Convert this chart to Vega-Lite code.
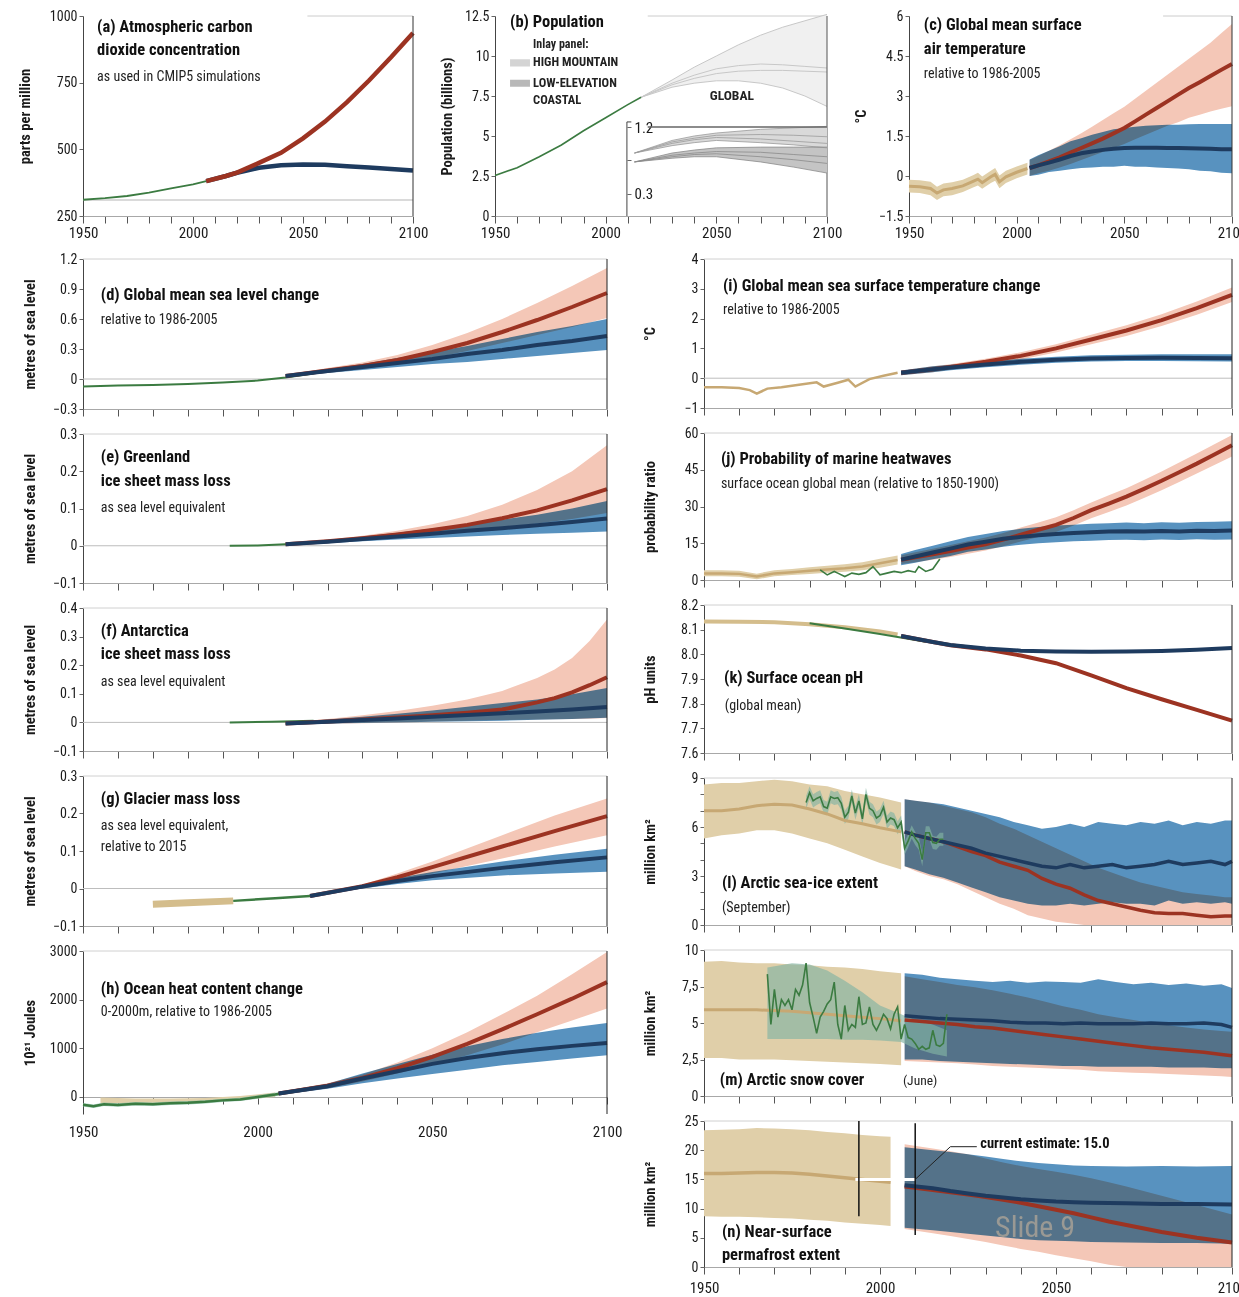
{
"$schema":"https://vega.github.io/schema/vega-lite/v6.json",
"background":"white",
"padding":{"left":17,"top":9,"right":5,"bottom":5},
"config":{
 "font":"Liberation Sans Narrow, Arial Narrow, Roboto Condensed, Roboto, sans-serif",
 "view":{"stroke":null},
 "axis":{"grid":false,"tickCount":40,"labelOverlap":false,"labelColor":"#1a1a1a","titleColor":"#1a1a1a","labelFontSize":14,"titleFontSize":14.5,"titleFontWeight":"bold","tickColor":"#666","domainColor":"#444"},
 "axisX":{"tickSize":7,"tickCount":40,"domainColor":"#a8a8a8","tickColor":"#555","labelFontSize":15,"labelFlush":false,"labelOverlap":false,"labelPadding":2},
 "axisY":{"tickSize":4,"tickCount":40,"minExtent":40,"maxExtent":40,"labelPadding":2,"titlePadding":6,"labelFlush":false,"labelOverlap":false}
},
"spacing":12,
"vconcat":[
{"hconcat":[
{"width":330,"height":200,
 "data":{"values":[
  {"s":"o","t":1950,"m":311},{"s":"o","t":1960,"m":317},{"s":"o","t":1970,"m":325},{"s":"o","t":1980,"m":338},{"s":"o","t":1990,"m":354},{"s":"o","t":2000,"m":369},{"s":"o","t":2006,"m":381},
  {"s":"p","t":2006,"m":381},{"s":"p","t":2015,"m":400},{"s":"p","t":2020,"m":413},{"s":"p","t":2030,"m":449},{"s":"p","t":2040,"m":487},{"s":"p","t":2050,"m":541},{"s":"p","t":2060,"m":604},{"s":"p","t":2070,"m":677},{"s":"p","t":2080,"m":758},{"s":"p","t":2090,"m":845},{"s":"p","t":2100,"m":936},
  {"s":"b","t":2006,"m":381},{"s":"b","t":2015,"m":400},{"s":"b","t":2020,"m":412},{"s":"b","t":2030,"m":431},{"s":"b","t":2040,"m":440},{"s":"b","t":2050,"m":443},{"s":"b","t":2060,"m":442},{"s":"b","t":2070,"m":437},{"s":"b","t":2080,"m":432},{"s":"b","t":2090,"m":426},{"s":"b","t":2100,"m":421}
 ]},
 "layer":[
  {"transform":[{"aggregate":[{"op":"count","as":"n"}]}],"mark":{"type":"rule","color":"#cccccc"},"encoding":{"x":{"datum":2052,"type":"quantitative","title":null,"scale":{"domain":[1950,2100],"nice":false,"zero":false},"axis":{"values":[1950,1960,1970,1980,1990,2000,2010,2020,2030,2040,2050,2060,2070,2080,2090,2100],"tickCount":40,"format":"d","labelExpr":"datum.value % 50 == 0 ? datum.label : ''","labelPadding":2,"labelOverlap":false}},"x2":{"datum":2100},"y":{"datum":1000,"type":"quantitative","title":"parts per million","scale":{"domain":[250,1000],"zero":false,"nice":false},"axis":{"values":[250,500,750,1000],"tickCount":40,"format":"d","labelOverlap":false,"titlePadding":11}}}},
  {"transform":[{"aggregate":[{"op":"count","as":"n"}]}],"mark":{"type":"rule","color":"#b5b5b5"},"encoding":{"x":{"datum":1950},"x2":{"datum":2100},"y":{"datum":310}}},
  {"transform":[{"filter":"datum.s=='o'"}],"mark":{"type":"line","color":"#3b7b41","strokeWidth":1.8},"encoding":{"x":{"field":"t","type":"quantitative","title":null,"scale":{"domain":[1950,2100],"nice":false,"zero":false},"axis":{"values":[1950,1960,1970,1980,1990,2000,2010,2020,2030,2040,2050,2060,2070,2080,2090,2100],"tickCount":40,"format":"d","labelExpr":"datum.value % 50 == 0 ? datum.label : ''","labelPadding":2,"labelOverlap":false}},"y":{"field":"m","type":"quantitative","title":"parts per million","scale":{"domain":[250,1000],"zero":false,"nice":false},"axis":{"values":[250,500,750,1000],"tickCount":40,"format":"d","labelOverlap":false,"titlePadding":11}}}},
  {"transform":[{"filter":"datum.s=='b'"}],"mark":{"type":"line","color":"#1e3b5f","strokeWidth":4.5},"encoding":{"x":{"field":"t","type":"quantitative","title":null},"y":{"field":"m","type":"quantitative"}}},
  {"transform":[{"filter":"datum.s=='p'"}],"mark":{"type":"line","color":"#9c3322","strokeWidth":4.5},"encoding":{"x":{"field":"t","type":"quantitative","title":null},"y":{"field":"m","type":"quantitative"}}},
  {"transform":[{"aggregate":[{"op":"count","as":"n"}]}],"mark":{"type":"rule","color":"#333"},"encoding":{"x":{"datum":2100}}},
  {"transform":[{"aggregate":[{"op":"count","as":"n"}]}],"mark":{"type":"text","align":"left","baseline":"middle","fontSize":16.5,"fontWeight":"bold","color":"#111"},"encoding":{"x":{"datum":1956.4},"y":{"datum":959},"text":{"value":"(a) Atmospheric carbon"}}},
  {"transform":[{"aggregate":[{"op":"count","as":"n"}]}],"mark":{"type":"text","align":"left","baseline":"middle","fontSize":16.5,"fontWeight":"bold","color":"#111"},"encoding":{"x":{"datum":1956.4},"y":{"datum":872},"text":{"value":"dioxide concentration"}}},
  {"transform":[{"aggregate":[{"op":"count","as":"n"}]}],"mark":{"type":"text","align":"left","baseline":"middle","fontSize":14,"color":"#222"},"encoding":{"x":{"datum":1956.4},"y":{"datum":771},"text":{"value":"as used in CMIP5 simulations"}}}
 ]},
{"width":332,"height":200,
 "data":{"values":[
  {"s":"o","t":1950,"m":2.53},{"s":"o","t":1960,"m":3.02},{"s":"o","t":1970,"m":3.7},{"s":"o","t":1980,"m":4.44},{"s":"o","t":1990,"m":5.33},{"s":"o","t":2000,"m":6.14},{"s":"o","t":2010,"m":6.96},{"s":"o","t":2016,"m":7.42},
  {"s":"g","t":2016,"a":7.42,"b":7.42,"c":7.42,"d":7.42},{"s":"g","t":2030,"a":8.5,"b":8.3,"c":8.2,"d":8.05},{"s":"g","t":2040,"a":9.3,"b":8.8,"c":8.6,"d":8.3},{"s":"g","t":2050,"a":10.0,"b":9.2,"c":8.9,"d":8.45},{"s":"g","t":2060,"a":10.7,"b":9.4,"c":9.05,"d":8.45},{"s":"g","t":2070,"a":11.3,"b":9.5,"c":9.1,"d":8.3},{"s":"g","t":2080,"a":11.8,"b":9.45,"c":9.1,"d":8.0},{"s":"g","t":2090,"a":12.2,"b":9.35,"c":9.05,"d":7.5},{"s":"g","t":2100,"a":12.6,"b":9.25,"c":9.0,"d":6.85},
  {"s":"c","t":2013,"a":0.85,"b":0.85,"c":0.85,"d":0.85},{"s":"c","t":2030,"a":1.02,"b":1.0,"c":0.98,"d":0.95},{"s":"c","t":2040,"a":1.08,"b":1.05,"c":1.03,"d":0.99},{"s":"c","t":2050,"a":1.12,"b":1.09,"c":1.06,"d":1.02},{"s":"c","t":2070,"a":1.17,"b":1.1,"c":1.04,"d":0.99},{"s":"c","t":2085,"a":1.19,"b":1.09,"c":1.01,"d":0.96},{"s":"c","t":2100,"a":1.21,"b":1.07,"c":0.98,"d":0.92},
  {"s":"k","t":2013,"a":0.73,"b":0.73,"c":0.73,"d":0.73},{"s":"k","t":2030,"a":0.85,"b":0.82,"c":0.8,"d":0.78},{"s":"k","t":2040,"a":0.89,"b":0.85,"c":0.83,"d":0.8},{"s":"k","t":2050,"a":0.92,"b":0.87,"c":0.84,"d":0.8},{"s":"k","t":2070,"a":0.93,"b":0.86,"c":0.8,"d":0.73},{"s":"k","t":2085,"a":0.93,"b":0.83,"c":0.76,"d":0.66},{"s":"k","t":2100,"a":0.93,"b":0.8,"c":0.71,"d":0.58}
 ]},
 "resolve":{"scale":{"y":"independent"},"axis":{"y":"independent"}},
 "layer":[
  {"layer":[
   {"transform":[{"aggregate":[{"op":"count","as":"n"}]}],"mark":{"type":"rule","color":"#cccccc"},"encoding":{"x":{"datum":2019,"type":"quantitative","title":null,"scale":{"domain":[1950,2100],"nice":false,"zero":false},"axis":{"values":[1950,1960,1970,1980,1990,2000,2010,2020,2030,2040,2050,2060,2070,2080,2090,2100],"tickCount":40,"format":"d","labelExpr":"datum.value % 50 == 0 ? datum.label : ''","labelPadding":2,"labelOverlap":false}},"x2":{"datum":2100},"y":{"datum":12.5,"type":"quantitative","title":"Population (billions)","scale":{"domain":[0,12.5],"zero":false,"nice":false},"axis":{"values":[0,2.5,5,7.5,10,12.5],"tickCount":40,"format":".1~f","labelOverlap":false,"titlePadding":1}}}},
   {"transform":[{"filter":"datum.s=='g'"}],"mark":{"type":"area","color":"#f0f0f0"},"encoding":{"x":{"field":"t","type":"quantitative","title":null,"scale":{"domain":[1950,2100],"nice":false,"zero":false},"axis":{"values":[1950,1960,1970,1980,1990,2000,2010,2020,2030,2040,2050,2060,2070,2080,2090,2100],"tickCount":40,"format":"d","labelExpr":"datum.value % 50 == 0 ? datum.label : ''","labelPadding":2,"labelOverlap":false}},"y":{"field":"d","type":"quantitative","title":"Population (billions)","scale":{"domain":[0,12.5],"zero":false,"nice":false},"axis":{"values":[0,2.5,5,7.5,10,12.5],"tickCount":40,"format":".1~f","labelOverlap":false,"titlePadding":1}},"y2":{"field":"a"}}},
   {"transform":[{"filter":"datum.s=='g'"},{"fold":["a","b","c","d"]}],"mark":{"type":"line","color":"#c8c8c8","strokeWidth":1},"encoding":{"x":{"field":"t","type":"quantitative","title":null},"y":{"field":"value","type":"quantitative"},"detail":{"field":"key"}}},
   {"transform":[{"filter":"datum.s=='o'"}],"mark":{"type":"line","color":"#3b7b41","strokeWidth":1.6},"encoding":{"x":{"field":"t","type":"quantitative","title":null},"y":{"field":"m","type":"quantitative"}}},
   {"transform":[{"aggregate":[{"op":"count","as":"n"}]}],"mark":{"type":"rule","color":"#555"},"encoding":{"x":{"datum":2100}}},
   {"transform":[{"aggregate":[{"op":"count","as":"n"}]}],"mark":{"type":"rect","color":"#d4d4d4"},"encoding":{"x":{"datum":1956.8},"x2":{"datum":1965.8},"y":{"datum":9.79},"y2":{"datum":9.34}}},
   {"transform":[{"aggregate":[{"op":"count","as":"n"}]}],"mark":{"type":"rect","color":"#b8b8b8"},"encoding":{"x":{"datum":1956.8},"x2":{"datum":1965.8},"y":{"datum":8.52},"y2":{"datum":8.08}}},
   {"transform":[{"aggregate":[{"op":"count","as":"n"}]}],"mark":{"type":"text","align":"left","baseline":"middle","fontSize":16.5,"fontWeight":"bold","color":"#111"},"encoding":{"x":{"datum":1956.8},"y":{"datum":12.12},"text":{"value":"(b) Population"}}},
   {"transform":[{"aggregate":[{"op":"count","as":"n"}]}],"mark":{"type":"text","align":"left","baseline":"middle","fontSize":12,"fontWeight":"bold","color":"#222"},"encoding":{"x":{"datum":1967.2},"y":{"datum":10.73},"text":{"value":"Inlay panel:"}}},
   {"transform":[{"aggregate":[{"op":"count","as":"n"}]}],"mark":{"type":"text","align":"left","baseline":"middle","fontSize":12.5,"fontWeight":"bold","color":"#222"},"encoding":{"x":{"datum":1967.2},"y":{"datum":9.6},"text":{"value":"HIGH MOUNTAIN"}}},
   {"transform":[{"aggregate":[{"op":"count","as":"n"}]}],"mark":{"type":"text","align":"left","baseline":"middle","fontSize":12.5,"fontWeight":"bold","color":"#222"},"encoding":{"x":{"datum":1967.2},"y":{"datum":8.33},"text":{"value":"LOW-ELEVATION"}}},
   {"transform":[{"aggregate":[{"op":"count","as":"n"}]}],"mark":{"type":"text","align":"left","baseline":"middle","fontSize":12.5,"fontWeight":"bold","color":"#222"},"encoding":{"x":{"datum":1967.2},"y":{"datum":7.26},"text":{"value":"COASTAL"}}},
   {"transform":[{"aggregate":[{"op":"count","as":"n"}]}],"mark":{"type":"text","align":"center","baseline":"middle","fontSize":13.5,"fontWeight":"bold","color":"#222"},"encoding":{"x":{"datum":2057},"y":{"datum":7.5},"text":{"value":"GLOBAL"}}}
  ]},
  {"layer":[
   {"transform":[{"filter":"datum.s=='c'"}],"mark":{"type":"area","color":"#d9d9d9"},"encoding":{"x":{"field":"t","type":"quantitative","title":null},"y":{"field":"d","type":"quantitative","title":null,"scale":{"domain":[0,2.7],"zero":false,"nice":false},"axis":{"orient":"right","offset":-200,"values":[0.3,0.75,1.2],"tickCount":40,"format":".1f","labelExpr":"datum.value == 0.75 ? '' : datum.label","domain":false,"labelOverlap":false,"labelFontSize":15,"labelPadding":3,"tickSize":4}},"y2":{"field":"a"}}},
   {"transform":[{"filter":"datum.s=='k'"}],"mark":{"type":"area","color":"#c4c4c4"},"encoding":{"x":{"field":"t","type":"quantitative","title":null},"y":{"field":"d","type":"quantitative"},"y2":{"field":"a"}}},
   {"transform":[{"filter":"datum.s=='c'"},{"fold":["a","b","c","d"]}],"mark":{"type":"line","color":"#9a9a9a","strokeWidth":0.8},"encoding":{"x":{"field":"t","type":"quantitative","title":null},"y":{"field":"value","type":"quantitative"},"detail":{"field":"key"}}},
   {"transform":[{"filter":"datum.s=='k'"},{"fold":["a","b","c","d"]}],"mark":{"type":"line","color":"#8a8a8a","strokeWidth":0.8},"encoding":{"x":{"field":"t","type":"quantitative","title":null},"y":{"field":"value","type":"quantitative"},"detail":{"field":"key"}}},
   {"transform":[{"aggregate":[{"op":"count","as":"n"}]}],"mark":{"type":"rule","color":"#444"},"encoding":{"x":{"datum":2009.6},"y":{"datum":0},"y2":{"datum":1.27}}},
   {"transform":[{"aggregate":[{"op":"count","as":"n"}]}],"mark":{"type":"rule","color":"#444"},"encoding":{"x":{"datum":2009.6},"x2":{"datum":2011.6},"y":{"datum":1.27}}},
   {"transform":[{"aggregate":[{"op":"count","as":"n"}]}],"mark":{"type":"rule","color":"#666","strokeWidth":1.5},"encoding":{"x":{"datum":2019},"x2":{"datum":2100},"y":{"datum":1.2}}}
  ]}
 ]},
{"width":323,"height":200,
 "data":{"values":[
  {"s":"h","t":1950,"lo":-0.62,"m":-0.38,"hi":-0.14},{"s":"h","t":1955,"lo":-0.64,"m":-0.4,"hi":-0.16},{"s":"h","t":1960,"lo":-0.72,"m":-0.47,"hi":-0.22},{"s":"h","t":1963,"lo":-0.9,"m":-0.64,"hi":-0.4},{"s":"h","t":1966,"lo":-0.76,"m":-0.52,"hi":-0.28},{"s":"h","t":1970,"lo":-0.72,"m":-0.47,"hi":-0.23},{"s":"h","t":1975,"lo":-0.6,"m":-0.37,"hi":-0.14},{"s":"h","t":1980,"lo":-0.42,"m":-0.19,"hi":0.04},{"s":"h","t":1982,"lo":-0.36,"m":-0.12,"hi":0.12},{"s":"h","t":1984,"lo":-0.48,"m":-0.25,"hi":-0.02},{"s":"h","t":1988,"lo":-0.26,"m":-0.03,"hi":0.2},{"s":"h","t":1990,"lo":-0.18,"m":0.06,"hi":0.3},{"s":"h","t":1992,"lo":-0.46,"m":-0.22,"hi":0.02},{"s":"h","t":1995,"lo":-0.26,"m":-0.03,"hi":0.2},{"s":"h","t":2000,"lo":-0.08,"m":0.14,"hi":0.36},{"s":"h","t":2005,"lo":0.06,"m":0.28,"hi":0.5},
  {"s":"p","t":2006,"lo":0.0,"m":0.3,"hi":0.6},{"s":"p","t":2010,"lo":0.1,"m":0.4,"hi":0.75},{"s":"p","t":2015,"lo":0.2,"m":0.55,"hi":0.95},{"s":"p","t":2020,"lo":0.32,"m":0.7,"hi":1.15},{"s":"p","t":2025,"lo":0.45,"m":0.88,"hi":1.38},{"s":"p","t":2030,"lo":0.6,"m":1.05,"hi":1.6},{"s":"p","t":2035,"lo":0.75,"m":1.22,"hi":1.85},{"s":"p","t":2040,"lo":0.9,"m":1.4,"hi":2.1},{"s":"p","t":2045,"lo":1.05,"m":1.6,"hi":2.35},{"s":"p","t":2050,"lo":1.2,"m":1.8,"hi":2.6},{"s":"p","t":2055,"lo":1.38,"m":2.05,"hi":2.9},{"s":"p","t":2060,"lo":1.55,"m":2.3,"hi":3.2},{"s":"p","t":2065,"lo":1.72,"m":2.55,"hi":3.5},{"s":"p","t":2070,"lo":1.88,"m":2.8,"hi":3.8},{"s":"p","t":2075,"lo":2.02,"m":3.05,"hi":4.1},{"s":"p","t":2080,"lo":2.18,"m":3.3,"hi":4.4},{"s":"p","t":2085,"lo":2.3,"m":3.52,"hi":4.7},{"s":"p","t":2090,"lo":2.42,"m":3.75,"hi":5.0},{"s":"p","t":2095,"lo":2.52,"m":3.98,"hi":5.35},{"s":"p","t":2100,"lo":2.62,"m":4.2,"hi":5.7},
  {"s":"b","t":2006,"lo":0.0,"m":0.3,"hi":0.62},{"s":"b","t":2010,"lo":0.05,"m":0.4,"hi":0.78},{"s":"b","t":2015,"lo":0.15,"m":0.5,"hi":0.95},{"s":"b","t":2020,"lo":0.2,"m":0.62,"hi":1.12},{"s":"b","t":2025,"lo":0.25,"m":0.75,"hi":1.3},{"s":"b","t":2030,"lo":0.3,"m":0.85,"hi":1.42},{"s":"b","t":2035,"lo":0.32,"m":0.92,"hi":1.55},{"s":"b","t":2040,"lo":0.35,"m":0.98,"hi":1.65},{"s":"b","t":2045,"lo":0.35,"m":1.02,"hi":1.75},{"s":"b","t":2050,"lo":0.38,"m":1.05,"hi":1.8},{"s":"b","t":2055,"lo":0.35,"m":1.06,"hi":1.85},{"s":"b","t":2060,"lo":0.35,"m":1.06,"hi":1.88},{"s":"b","t":2065,"lo":0.32,"m":1.06,"hi":1.9},{"s":"b","t":2070,"lo":0.3,"m":1.05,"hi":1.92},{"s":"b","t":2075,"lo":0.28,"m":1.05,"hi":1.92},{"s":"b","t":2080,"lo":0.25,"m":1.04,"hi":1.94},{"s":"b","t":2085,"lo":0.2,"m":1.03,"hi":1.95},{"s":"b","t":2090,"lo":0.18,"m":1.02,"hi":1.95},{"s":"b","t":2095,"lo":0.12,"m":1.0,"hi":1.95},{"s":"b","t":2100,"lo":0.1,"m":1.0,"hi":1.95}
 ]},
 "layer":[
  {"transform":[{"aggregate":[{"op":"count","as":"n"}]}],"mark":{"type":"rule","color":"#cccccc"},"encoding":{"x":{"datum":2068,"type":"quantitative","title":null,"scale":{"domain":[1950,2100],"nice":false,"zero":false},"axis":{"values":[1950,1960,1970,1980,1990,2000,2010,2020,2030,2040,2050,2060,2070,2080,2090,2100],"tickCount":40,"format":"d","labelExpr":"datum.value % 50 == 0 ? datum.label : ''","labelPadding":2,"labelOverlap":false}},"x2":{"datum":2100},"y":{"datum":6,"type":"quantitative","title":"°C","scale":{"domain":[-1.5,6],"zero":false,"nice":false},"axis":{"values":[-1.5,0,1.5,3,4.5,6],"tickCount":40,"format":".1~f","labelOverlap":false,"titlePadding":1}}}},
  {"transform":[{"filter":"datum.s=='h'"}],"mark":{"type":"area","color":"#e0cfa9"},"encoding":{"x":{"field":"t","type":"quantitative","title":null,"scale":{"domain":[1950,2100],"nice":false,"zero":false},"axis":{"values":[1950,1960,1970,1980,1990,2000,2010,2020,2030,2040,2050,2060,2070,2080,2090,2100],"tickCount":40,"format":"d","labelExpr":"datum.value % 50 == 0 ? datum.label : ''","labelPadding":2,"labelOverlap":false}},"y":{"field":"lo","type":"quantitative","title":"°C","scale":{"domain":[-1.5,6],"zero":false,"nice":false},"axis":{"values":[-1.5,0,1.5,3,4.5,6],"tickCount":40,"format":".1~f","labelOverlap":false,"titlePadding":1}},"y2":{"field":"hi"}}},
  {"transform":[{"filter":"datum.s=='p'"}],"mark":{"type":"area","color":"#f4c7b7"},"encoding":{"x":{"field":"t","type":"quantitative","title":null},"y":{"field":"lo","type":"quantitative"},"y2":{"field":"hi"}}},
  {"transform":[{"filter":"datum.s=='b'"}],"mark":{"type":"area","color":"#5892bf","blend":"multiply"},"encoding":{"x":{"field":"t","type":"quantitative","title":null},"y":{"field":"lo","type":"quantitative"},"y2":{"field":"hi"}}},
  {"transform":[{"filter":"datum.s=='h'"}],"mark":{"type":"line","color":"#c7a873","strokeWidth":3},"encoding":{"x":{"field":"t","type":"quantitative","title":null},"y":{"field":"m","type":"quantitative"}}},
  {"transform":[{"filter":"datum.s=='p'"}],"mark":{"type":"line","color":"#9c3322","strokeWidth":4},"encoding":{"x":{"field":"t","type":"quantitative","title":null},"y":{"field":"m","type":"quantitative"}}},
  {"transform":[{"filter":"datum.s=='b'"}],"mark":{"type":"line","color":"#1e3b5f","strokeWidth":4},"encoding":{"x":{"field":"t","type":"quantitative","title":null},"y":{"field":"m","type":"quantitative"}}},
  {"transform":[{"aggregate":[{"op":"count","as":"n"}]}],"mark":{"type":"rule","color":"#333"},"encoding":{"x":{"datum":2100}}},
  {"transform":[{"aggregate":[{"op":"count","as":"n"}]}],"mark":{"type":"text","align":"left","baseline":"middle","fontSize":16.5,"fontWeight":"bold","color":"#111"},"encoding":{"x":{"datum":1956.9},"y":{"datum":5.66},"text":{"value":"(c) Global mean surface"}}},
  {"transform":[{"aggregate":[{"op":"count","as":"n"}]}],"mark":{"type":"text","align":"left","baseline":"middle","fontSize":16.5,"fontWeight":"bold","color":"#111"},"encoding":{"x":{"datum":1956.9},"y":{"datum":4.78},"text":{"value":"air temperature"}}},
  {"transform":[{"aggregate":[{"op":"count","as":"n"}]}],"mark":{"type":"text","align":"left","baseline":"middle","fontSize":14,"color":"#222"},"encoding":{"x":{"datum":1956.9},"y":{"datum":3.83},"text":{"value":"relative to 1986-2005"}}}
 ]}
],"spacing":82,"bounds":"flush"},
{"hconcat":[
{"vconcat":[
{"width":524,"height":150,
 "data":{"values":[
  {"s":"o","t":1950,"m":-0.075},{"s":"o","t":1960,"m":-0.066},{"s":"o","t":1970,"m":-0.06},{"s":"o","t":1980,"m":-0.05},{"s":"o","t":1990,"m":-0.036},{"s":"o","t":2000,"m":-0.016},{"s":"o","t":2008,"m":0.014},{"s":"o","t":2016,"m":0.055},
  {"s":"p","t":2008,"lo":0.02,"m":0.03,"hi":0.04},{"s":"p","t":2020,"lo":0.06,"m":0.085,"hi":0.11},{"s":"p","t":2030,"lo":0.1,"m":0.13,"hi":0.165},{"s":"p","t":2040,"lo":0.15,"m":0.19,"hi":0.24},{"s":"p","t":2050,"lo":0.21,"m":0.27,"hi":0.34},{"s":"p","t":2060,"lo":0.28,"m":0.36,"hi":0.46},{"s":"p","t":2070,"lo":0.36,"m":0.47,"hi":0.6},{"s":"p","t":2080,"lo":0.44,"m":0.59,"hi":0.76},{"s":"p","t":2090,"lo":0.52,"m":0.72,"hi":0.93},{"s":"p","t":2100,"lo":0.61,"m":0.86,"hi":1.11},
  {"s":"b","t":2008,"lo":0.02,"m":0.03,"hi":0.04},{"s":"b","t":2020,"lo":0.06,"m":0.08,"hi":0.1},{"s":"b","t":2030,"lo":0.09,"m":0.12,"hi":0.15},{"s":"b","t":2040,"lo":0.12,"m":0.16,"hi":0.21},{"s":"b","t":2050,"lo":0.15,"m":0.2,"hi":0.27},{"s":"b","t":2060,"lo":0.17,"m":0.25,"hi":0.33},{"s":"b","t":2070,"lo":0.2,"m":0.29,"hi":0.4},{"s":"b","t":2080,"lo":0.23,"m":0.34,"hi":0.47},{"s":"b","t":2090,"lo":0.26,"m":0.38,"hi":0.53},{"s":"b","t":2100,"lo":0.29,"m":0.43,"hi":0.6}
 ]},
 "layer":[
  {"transform":[{"aggregate":[{"op":"count","as":"n"}]}],"mark":{"type":"rule","color":"#d0d0d0"},"encoding":{"x":{"datum":1950,"type":"quantitative","title":null,"scale":{"domain":[1950,2100],"nice":false,"zero":false},"axis":{"values":[1950,1960,1970,1980,1990,2000,2010,2020,2030,2040,2050,2060,2070,2080,2090,2100],"tickCount":40,"labels":false,"labelOverlap":false}},"x2":{"datum":2100},"y":{"datum":1.2,"type":"quantitative","title":"metres of sea level","scale":{"domain":[-0.3,1.2],"zero":false,"nice":false},"axis":{"values":[-0.3,0,0.3,0.6,0.9,1.2],"tickCount":40,"format":".1~f","labelOverlap":false}}}},
  {"transform":[{"aggregate":[{"op":"count","as":"n"}]}],"mark":{"type":"rule","color":"#bdbdbd"},"encoding":{"x":{"datum":1950},"x2":{"datum":2100},"y":{"datum":0}}},
  {"transform":[{"filter":"datum.s=='p'"}],"mark":{"type":"area","color":"#f4c7b7"},"encoding":{"x":{"field":"t","type":"quantitative","title":null,"scale":{"domain":[1950,2100],"nice":false,"zero":false},"axis":{"values":[1950,1960,1970,1980,1990,2000,2010,2020,2030,2040,2050,2060,2070,2080,2090,2100],"tickCount":40,"labels":false,"labelOverlap":false}},"y":{"field":"lo","type":"quantitative","title":"metres of sea level","scale":{"domain":[-0.3,1.2],"zero":false,"nice":false},"axis":{"values":[-0.3,0,0.3,0.6,0.9,1.2],"tickCount":40,"format":".1~f","labelOverlap":false}},"y2":{"field":"hi"}}},
  {"transform":[{"filter":"datum.s=='b'"}],"mark":{"type":"area","color":"#5892bf","blend":"multiply"},"encoding":{"x":{"field":"t","type":"quantitative","title":null},"y":{"field":"lo","type":"quantitative"},"y2":{"field":"hi"}}},
  {"transform":[{"filter":"datum.s=='o'"}],"mark":{"type":"line","color":"#3b7b41","strokeWidth":2},"encoding":{"x":{"field":"t","type":"quantitative","title":null},"y":{"field":"m","type":"quantitative"}}},
  {"transform":[{"filter":"datum.s=='p'"}],"mark":{"type":"line","color":"#9c3322","strokeWidth":4},"encoding":{"x":{"field":"t","type":"quantitative","title":null},"y":{"field":"m","type":"quantitative"}}},
  {"transform":[{"filter":"datum.s=='b'"}],"mark":{"type":"line","color":"#1e3b5f","strokeWidth":4},"encoding":{"x":{"field":"t","type":"quantitative","title":null},"y":{"field":"m","type":"quantitative"}}},
  {"transform":[{"aggregate":[{"op":"count","as":"n"}]}],"mark":{"type":"rule","color":"#222"},"encoding":{"x":{"datum":2100}}},
  {"transform":[{"aggregate":[{"op":"count","as":"n"}]}],"mark":{"type":"text","align":"left","baseline":"middle","fontSize":16.5,"fontWeight":"bold","color":"#111"},"encoding":{"x":{"datum":1955.1},"y":{"datum":0.845},"text":{"value":"(d) Global mean sea level change"}}},
  {"transform":[{"aggregate":[{"op":"count","as":"n"}]}],"mark":{"type":"text","align":"left","baseline":"middle","fontSize":14,"color":"#222"},"encoding":{"x":{"datum":1955.1},"y":{"datum":0.592},"text":{"value":"relative to 1986-2005"}}}
 ]},
{"width":524,"height":149,
 "data":{"values":[
  {"s":"o","t":1992,"m":0},{"s":"o","t":2000,"m":0.001},{"s":"o","t":2008,"m":0.004},{"s":"o","t":2016,"m":0.008},
  {"s":"p","t":2008,"lo":0.002,"m":0.004,"hi":0.006},{"s":"p","t":2020,"lo":0.008,"m":0.012,"hi":0.016},{"s":"p","t":2030,"lo":0.014,"m":0.02,"hi":0.027},{"s":"p","t":2040,"lo":0.022,"m":0.03,"hi":0.04},{"s":"p","t":2050,"lo":0.03,"m":0.042,"hi":0.058},{"s":"p","t":2060,"lo":0.04,"m":0.056,"hi":0.08},{"s":"p","t":2070,"lo":0.05,"m":0.074,"hi":0.11},{"s":"p","t":2080,"lo":0.06,"m":0.095,"hi":0.15},{"s":"p","t":2090,"lo":0.072,"m":0.122,"hi":0.2},{"s":"p","t":2100,"lo":0.088,"m":0.152,"hi":0.27},
  {"s":"b","t":2008,"lo":0.002,"m":0.004,"hi":0.006},{"s":"b","t":2020,"lo":0.007,"m":0.011,"hi":0.015},{"s":"b","t":2030,"lo":0.012,"m":0.018,"hi":0.025},{"s":"b","t":2040,"lo":0.017,"m":0.025,"hi":0.035},{"s":"b","t":2050,"lo":0.021,"m":0.032,"hi":0.046},{"s":"b","t":2060,"lo":0.025,"m":0.04,"hi":0.058},{"s":"b","t":2070,"lo":0.029,"m":0.047,"hi":0.07},{"s":"b","t":2080,"lo":0.032,"m":0.055,"hi":0.083},{"s":"b","t":2090,"lo":0.035,"m":0.064,"hi":0.1},{"s":"b","t":2100,"lo":0.038,"m":0.073,"hi":0.12}
 ]},
 "layer":[
  {"transform":[{"aggregate":[{"op":"count","as":"n"}]}],"mark":{"type":"rule","color":"#d0d0d0"},"encoding":{"x":{"datum":1950,"type":"quantitative","title":null,"scale":{"domain":[1950,2100],"nice":false,"zero":false},"axis":{"values":[1950,1960,1970,1980,1990,2000,2010,2020,2030,2040,2050,2060,2070,2080,2090,2100],"tickCount":40,"labels":false,"labelOverlap":false}},"x2":{"datum":2100},"y":{"datum":0.3,"type":"quantitative","title":"metres of sea level","scale":{"domain":[-0.1,0.3],"zero":false,"nice":false},"axis":{"values":[-0.1,0,0.1,0.2,0.3],"tickCount":40,"format":".1~f","labelOverlap":false}}}},
  {"transform":[{"aggregate":[{"op":"count","as":"n"}]}],"mark":{"type":"rule","color":"#bdbdbd"},"encoding":{"x":{"datum":1950},"x2":{"datum":2100},"y":{"datum":0}}},
  {"transform":[{"filter":"datum.s=='p'"}],"mark":{"type":"area","color":"#f4c7b7"},"encoding":{"x":{"field":"t","type":"quantitative","title":null,"scale":{"domain":[1950,2100],"nice":false,"zero":false},"axis":{"values":[1950,1960,1970,1980,1990,2000,2010,2020,2030,2040,2050,2060,2070,2080,2090,2100],"tickCount":40,"labels":false,"labelOverlap":false}},"y":{"field":"lo","type":"quantitative","title":"metres of sea level","scale":{"domain":[-0.1,0.3],"zero":false,"nice":false},"axis":{"values":[-0.1,0,0.1,0.2,0.3],"tickCount":40,"format":".1~f","labelOverlap":false}},"y2":{"field":"hi"}}},
  {"transform":[{"filter":"datum.s=='b'"}],"mark":{"type":"area","color":"#5892bf","blend":"multiply"},"encoding":{"x":{"field":"t","type":"quantitative","title":null},"y":{"field":"lo","type":"quantitative"},"y2":{"field":"hi"}}},
  {"transform":[{"filter":"datum.s=='o'"}],"mark":{"type":"line","color":"#3b7b41","strokeWidth":2},"encoding":{"x":{"field":"t","type":"quantitative","title":null},"y":{"field":"m","type":"quantitative"}}},
  {"transform":[{"filter":"datum.s=='p'"}],"mark":{"type":"line","color":"#9c3322","strokeWidth":4},"encoding":{"x":{"field":"t","type":"quantitative","title":null},"y":{"field":"m","type":"quantitative"}}},
  {"transform":[{"filter":"datum.s=='b'"}],"mark":{"type":"line","color":"#1e3b5f","strokeWidth":4},"encoding":{"x":{"field":"t","type":"quantitative","title":null},"y":{"field":"m","type":"quantitative"}}},
  {"transform":[{"aggregate":[{"op":"count","as":"n"}]}],"mark":{"type":"rule","color":"#222"},"encoding":{"x":{"datum":2100}}},
  {"transform":[{"aggregate":[{"op":"count","as":"n"}]}],"mark":{"type":"text","align":"left","baseline":"middle","fontSize":16.5,"fontWeight":"bold","color":"#111"},"encoding":{"x":{"datum":1955.1},"y":{"datum":0.237},"text":{"value":"(e) Greenland"}}},
  {"transform":[{"aggregate":[{"op":"count","as":"n"}]}],"mark":{"type":"text","align":"left","baseline":"middle","fontSize":16.5,"fontWeight":"bold","color":"#111"},"encoding":{"x":{"datum":1955.1},"y":{"datum":0.173},"text":{"value":"ice sheet mass loss"}}},
  {"transform":[{"aggregate":[{"op":"count","as":"n"}]}],"mark":{"type":"text","align":"left","baseline":"middle","fontSize":14,"color":"#222"},"encoding":{"x":{"datum":1955.1},"y":{"datum":0.101},"text":{"value":"as sea level equivalent"}}}
 ]},
{"width":524,"height":143,
 "data":{"values":[
  {"s":"o","t":1992,"m":0},{"s":"o","t":2004,"m":0.002},{"s":"o","t":2016,"m":0.006},
  {"s":"p","t":2008,"lo":-0.008,"m":-0.004,"hi":0},{"s":"p","t":2020,"lo":-0.005,"m":0.003,"hi":0.012},{"s":"p","t":2030,"lo":-0.003,"m":0.01,"hi":0.025},{"s":"p","t":2040,"lo":0,"m":0.017,"hi":0.04},{"s":"p","t":2050,"lo":0.003,"m":0.025,"hi":0.058},{"s":"p","t":2060,"lo":0.006,"m":0.034,"hi":0.08},{"s":"p","t":2070,"lo":0.008,"m":0.045,"hi":0.11},{"s":"p","t":2080,"lo":0.01,"m":0.07,"hi":0.155},{"s":"p","t":2085,"lo":0.011,"m":0.085,"hi":0.185},{"s":"p","t":2090,"lo":0.012,"m":0.105,"hi":0.225},{"s":"p","t":2095,"lo":0.013,"m":0.13,"hi":0.285},{"s":"p","t":2100,"lo":0.015,"m":0.158,"hi":0.36},
  {"s":"b","t":2008,"lo":-0.008,"m":-0.004,"hi":0},{"s":"b","t":2020,"lo":-0.004,"m":0.002,"hi":0.01},{"s":"b","t":2030,"lo":-0.002,"m":0.008,"hi":0.02},{"s":"b","t":2040,"lo":0,"m":0.014,"hi":0.03},{"s":"b","t":2050,"lo":0.002,"m":0.02,"hi":0.042},{"s":"b","t":2060,"lo":0.004,"m":0.026,"hi":0.055},{"s":"b","t":2070,"lo":0.006,"m":0.032,"hi":0.068},{"s":"b","t":2080,"lo":0.009,"m":0.038,"hi":0.08},{"s":"b","t":2090,"lo":0.012,"m":0.045,"hi":0.098},{"s":"b","t":2100,"lo":0.016,"m":0.054,"hi":0.12}
 ]},
 "layer":[
  {"transform":[{"aggregate":[{"op":"count","as":"n"}]}],"mark":{"type":"rule","color":"#d0d0d0"},"encoding":{"x":{"datum":1950,"type":"quantitative","title":null,"scale":{"domain":[1950,2100],"nice":false,"zero":false},"axis":{"values":[1950,1960,1970,1980,1990,2000,2010,2020,2030,2040,2050,2060,2070,2080,2090,2100],"tickCount":40,"labels":false,"labelOverlap":false}},"x2":{"datum":2100},"y":{"datum":0.4,"type":"quantitative","title":"metres of sea level","scale":{"domain":[-0.1,0.4],"zero":false,"nice":false},"axis":{"values":[-0.1,0,0.1,0.2,0.3,0.4],"tickCount":40,"format":".1~f","labelOverlap":false}}}},
  {"transform":[{"aggregate":[{"op":"count","as":"n"}]}],"mark":{"type":"rule","color":"#bdbdbd"},"encoding":{"x":{"datum":1950},"x2":{"datum":2100},"y":{"datum":0}}},
  {"transform":[{"filter":"datum.s=='p'"}],"mark":{"type":"area","color":"#f4c7b7"},"encoding":{"x":{"field":"t","type":"quantitative","title":null,"scale":{"domain":[1950,2100],"nice":false,"zero":false},"axis":{"values":[1950,1960,1970,1980,1990,2000,2010,2020,2030,2040,2050,2060,2070,2080,2090,2100],"tickCount":40,"labels":false,"labelOverlap":false}},"y":{"field":"lo","type":"quantitative","title":"metres of sea level","scale":{"domain":[-0.1,0.4],"zero":false,"nice":false},"axis":{"values":[-0.1,0,0.1,0.2,0.3,0.4],"tickCount":40,"format":".1~f","labelOverlap":false}},"y2":{"field":"hi"}}},
  {"transform":[{"filter":"datum.s=='b'"}],"mark":{"type":"area","color":"#5892bf","blend":"multiply"},"encoding":{"x":{"field":"t","type":"quantitative","title":null},"y":{"field":"lo","type":"quantitative"},"y2":{"field":"hi"}}},
  {"transform":[{"filter":"datum.s=='o'"}],"mark":{"type":"line","color":"#3b7b41","strokeWidth":2},"encoding":{"x":{"field":"t","type":"quantitative","title":null},"y":{"field":"m","type":"quantitative"}}},
  {"transform":[{"filter":"datum.s=='p'"}],"mark":{"type":"line","color":"#9c3322","strokeWidth":4},"encoding":{"x":{"field":"t","type":"quantitative","title":null},"y":{"field":"m","type":"quantitative"}}},
  {"transform":[{"filter":"datum.s=='b'"}],"mark":{"type":"line","color":"#1e3b5f","strokeWidth":4},"encoding":{"x":{"field":"t","type":"quantitative","title":null},"y":{"field":"m","type":"quantitative"}}},
  {"transform":[{"aggregate":[{"op":"count","as":"n"}]}],"mark":{"type":"rule","color":"#222"},"encoding":{"x":{"datum":2100}}},
  {"transform":[{"aggregate":[{"op":"count","as":"n"}]}],"mark":{"type":"text","align":"left","baseline":"middle","fontSize":16.5,"fontWeight":"bold","color":"#111"},"encoding":{"x":{"datum":1955.1},"y":{"datum":0.32},"text":{"value":"(f) Antarctica"}}},
  {"transform":[{"aggregate":[{"op":"count","as":"n"}]}],"mark":{"type":"text","align":"left","baseline":"middle","fontSize":16.5,"fontWeight":"bold","color":"#111"},"encoding":{"x":{"datum":1955.1},"y":{"datum":0.24},"text":{"value":"ice sheet mass loss"}}},
  {"transform":[{"aggregate":[{"op":"count","as":"n"}]}],"mark":{"type":"text","align":"left","baseline":"middle","fontSize":14,"color":"#222"},"encoding":{"x":{"datum":1955.1},"y":{"datum":0.143},"text":{"value":"as sea level equivalent"}}}
 ]},
{"width":524,"height":150,
 "data":{"values":[
  {"s":"h","t":1970,"m":-0.042},{"s":"h","t":1980,"m":-0.038},{"s":"h","t":1993,"m":-0.033},
  {"s":"o","t":1993,"m":-0.033},{"s":"o","t":2005,"m":-0.026},{"s":"o","t":2015,"m":-0.02},
  {"s":"p","t":2015,"lo":-0.02,"m":-0.02,"hi":-0.02},{"s":"p","t":2030,"lo":0.002,"m":0.006,"hi":0.01},{"s":"p","t":2040,"lo":0.02,"m":0.03,"hi":0.04},{"s":"p","t":2050,"lo":0.04,"m":0.057,"hi":0.072},{"s":"p","t":2070,"lo":0.08,"m":0.112,"hi":0.142},{"s":"p","t":2085,"lo":0.112,"m":0.153,"hi":0.195},{"s":"p","t":2100,"lo":0.142,"m":0.193,"hi":0.24},
  {"s":"b","t":2015,"lo":-0.02,"m":-0.02,"hi":-0.02},{"s":"b","t":2030,"lo":0,"m":0.005,"hi":0.01},{"s":"b","t":2040,"lo":0.012,"m":0.02,"hi":0.028},{"s":"b","t":2050,"lo":0.022,"m":0.033,"hi":0.044},{"s":"b","t":2070,"lo":0.035,"m":0.055,"hi":0.072},{"s":"b","t":2085,"lo":0.04,"m":0.07,"hi":0.09},{"s":"b","t":2100,"lo":0.045,"m":0.083,"hi":0.106}
 ]},
 "layer":[
  {"transform":[{"aggregate":[{"op":"count","as":"n"}]}],"mark":{"type":"rule","color":"#d0d0d0"},"encoding":{"x":{"datum":1950,"type":"quantitative","title":null,"scale":{"domain":[1950,2100],"nice":false,"zero":false},"axis":{"values":[1950,1960,1970,1980,1990,2000,2010,2020,2030,2040,2050,2060,2070,2080,2090,2100],"tickCount":40,"labels":false,"labelOverlap":false}},"x2":{"datum":2100},"y":{"datum":0.3,"type":"quantitative","title":"metres of sea level","scale":{"domain":[-0.1,0.3],"zero":false,"nice":false},"axis":{"values":[-0.1,0,0.1,0.2,0.3],"tickCount":40,"format":".1~f","labelOverlap":false}}}},
  {"transform":[{"aggregate":[{"op":"count","as":"n"}]}],"mark":{"type":"rule","color":"#bdbdbd"},"encoding":{"x":{"datum":1950},"x2":{"datum":2100},"y":{"datum":0}}},
  {"transform":[{"filter":"datum.s=='p'"}],"mark":{"type":"area","color":"#f4c7b7"},"encoding":{"x":{"field":"t","type":"quantitative","title":null,"scale":{"domain":[1950,2100],"nice":false,"zero":false},"axis":{"values":[1950,1960,1970,1980,1990,2000,2010,2020,2030,2040,2050,2060,2070,2080,2090,2100],"tickCount":40,"labels":false,"labelOverlap":false}},"y":{"field":"lo","type":"quantitative","title":"metres of sea level","scale":{"domain":[-0.1,0.3],"zero":false,"nice":false},"axis":{"values":[-0.1,0,0.1,0.2,0.3],"tickCount":40,"format":".1~f","labelOverlap":false}},"y2":{"field":"hi"}}},
  {"transform":[{"filter":"datum.s=='b'"}],"mark":{"type":"area","color":"#5892bf","blend":"multiply"},"encoding":{"x":{"field":"t","type":"quantitative","title":null},"y":{"field":"lo","type":"quantitative"},"y2":{"field":"hi"}}},
  {"transform":[{"filter":"datum.s=='h'"}],"mark":{"type":"line","color":"#d4bd8c","strokeWidth":7},"encoding":{"x":{"field":"t","type":"quantitative","title":null},"y":{"field":"m","type":"quantitative"}}},
  {"transform":[{"filter":"datum.s=='o'"}],"mark":{"type":"line","color":"#3b7b41","strokeWidth":2.5},"encoding":{"x":{"field":"t","type":"quantitative","title":null},"y":{"field":"m","type":"quantitative"}}},
  {"transform":[{"filter":"datum.s=='p'"}],"mark":{"type":"line","color":"#9c3322","strokeWidth":4},"encoding":{"x":{"field":"t","type":"quantitative","title":null},"y":{"field":"m","type":"quantitative"}}},
  {"transform":[{"filter":"datum.s=='b'"}],"mark":{"type":"line","color":"#1e3b5f","strokeWidth":4},"encoding":{"x":{"field":"t","type":"quantitative","title":null},"y":{"field":"m","type":"quantitative"}}},
  {"transform":[{"aggregate":[{"op":"count","as":"n"}]}],"mark":{"type":"rule","color":"#222"},"encoding":{"x":{"datum":2100}}},
  {"transform":[{"aggregate":[{"op":"count","as":"n"}]}],"mark":{"type":"text","align":"left","baseline":"middle","fontSize":16.5,"fontWeight":"bold","color":"#111"},"encoding":{"x":{"datum":1955.1},"y":{"datum":0.238},"text":{"value":"(g) Glacier mass loss"}}},
  {"transform":[{"aggregate":[{"op":"count","as":"n"}]}],"mark":{"type":"text","align":"left","baseline":"middle","fontSize":14,"color":"#222"},"encoding":{"x":{"datum":1955.1},"y":{"datum":0.166},"text":{"value":"as sea level equivalent,"}}},
  {"transform":[{"aggregate":[{"op":"count","as":"n"}]}],"mark":{"type":"text","align":"left","baseline":"middle","fontSize":14,"color":"#222"},"encoding":{"x":{"datum":1955.1},"y":{"datum":0.112},"text":{"value":"relative to 2015"}}}
 ]},
{"width":524,"height":163,
 "data":{"values":[
  {"s":"h","t":1955,"lo":-130,"m":-70,"hi":-10},{"s":"h","t":1965,"lo":-140,"m":-85,"hi":-30},{"s":"h","t":1975,"lo":-130,"m":-80,"hi":-30},{"s":"h","t":1985,"lo":-100,"m":-60,"hi":-20},{"s":"h","t":1995,"lo":-60,"m":-20,"hi":20},{"s":"h","t":2005,"lo":0,"m":45,"hi":90},
  {"s":"o","t":1950,"lo":-195,"m":-160,"hi":-125},{"s":"o","t":1953,"lo":-225,"m":-190,"hi":-155},{"s":"o","t":1956,"lo":-185,"m":-150,"hi":-115},{"s":"o","t":1960,"lo":-200,"m":-165,"hi":-130},{"s":"o","t":1965,"lo":-175,"m":-140,"hi":-105},{"s":"o","t":1970,"lo":-185,"m":-150,"hi":-115},{"s":"o","t":1975,"lo":-165,"m":-130,"hi":-95},{"s":"o","t":1980,"lo":-155,"m":-120,"hi":-85},{"s":"o","t":1985,"lo":-135,"m":-100,"hi":-65},{"s":"o","t":1990,"lo":-105,"m":-70,"hi":-35},{"s":"o","t":1995,"lo":-85,"m":-50,"hi":-15},{"s":"o","t":2000,"lo":-35,"m":0,"hi":35},{"s":"o","t":2005,"lo":15,"m":50,"hi":85},{"s":"o","t":2010,"lo":75,"m":110,"hi":145},{"s":"o","t":2015,"lo":135,"m":170,"hi":205},{"s":"o","t":2018,"lo":175,"m":210,"hi":245},
  {"s":"p","t":2006,"lo":40,"m":70,"hi":100},{"s":"p","t":2020,"lo":180,"m":230,"hi":280},{"s":"p","t":2030,"lo":320,"m":390,"hi":460},{"s":"p","t":2040,"lo":480,"m":590,"hi":710},{"s":"p","t":2050,"lo":660,"m":825,"hi":1000},{"s":"p","t":2060,"lo":860,"m":1090,"hi":1330},{"s":"p","t":2070,"lo":1080,"m":1390,"hi":1700},{"s":"p","t":2080,"lo":1330,"m":1700,"hi":2080},{"s":"p","t":2090,"lo":1570,"m":2020,"hi":2520},{"s":"p","t":2100,"lo":1820,"m":2360,"hi":2980},
  {"s":"b","t":2006,"lo":40,"m":70,"hi":100},{"s":"b","t":2020,"lo":170,"m":220,"hi":270},{"s":"b","t":2030,"lo":280,"m":380,"hi":480},{"s":"b","t":2040,"lo":380,"m":530,"hi":680},{"s":"b","t":2050,"lo":470,"m":680,"hi":870},{"s":"b","t":2060,"lo":560,"m":800,"hi":1040},{"s":"b","t":2070,"lo":650,"m":900,"hi":1190},{"s":"b","t":2080,"lo":720,"m":980,"hi":1320},{"s":"b","t":2090,"lo":790,"m":1050,"hi":1430},{"s":"b","t":2100,"lo":860,"m":1110,"hi":1520}
 ]},
 "layer":[
  {"transform":[{"aggregate":[{"op":"count","as":"n"}]}],"mark":{"type":"rule","color":"#d0d0d0"},"encoding":{"x":{"datum":1950,"type":"quantitative","title":null,"scale":{"domain":[1950,2100],"nice":false,"zero":false},"axis":{"values":[1950,1960,1970,1980,1990,2000,2010,2020,2030,2040,2050,2060,2070,2080,2090,2100],"tickCount":40,"format":"d","labelExpr":"datum.value % 50 == 0 ? datum.label : ''","labelPadding":20,"offset":-17,"labelOverlap":false}},"x2":{"datum":2100},"y":{"datum":3000,"type":"quantitative","title":"10²¹ Joules","scale":{"domain":[-350,3000],"zero":false,"nice":false},"axis":{"values":[0,1000,2000,3000],"tickCount":40,"format":"d","labelOverlap":false}}}},
  {"transform":[{"filter":"datum.s=='h'"}],"mark":{"type":"area","color":"#e0cfa9"},"encoding":{"x":{"field":"t","type":"quantitative","title":null,"scale":{"domain":[1950,2100],"nice":false,"zero":false},"axis":{"values":[1950,1960,1970,1980,1990,2000,2010,2020,2030,2040,2050,2060,2070,2080,2090,2100],"tickCount":40,"format":"d","labelExpr":"datum.value % 50 == 0 ? datum.label : ''","labelPadding":20,"offset":-17,"labelOverlap":false}},"y":{"field":"lo","type":"quantitative","title":"10²¹ Joules","scale":{"domain":[-350,3000],"zero":false,"nice":false},"axis":{"values":[0,1000,2000,3000],"tickCount":40,"format":"d","labelOverlap":false}},"y2":{"field":"hi"}}},
  {"transform":[{"filter":"datum.s=='p'"}],"mark":{"type":"area","color":"#f4c7b7"},"encoding":{"x":{"field":"t","type":"quantitative","title":null},"y":{"field":"lo","type":"quantitative"},"y2":{"field":"hi"}}},
  {"transform":[{"filter":"datum.s=='b'"}],"mark":{"type":"area","color":"#5892bf","blend":"multiply"},"encoding":{"x":{"field":"t","type":"quantitative","title":null},"y":{"field":"lo","type":"quantitative"},"y2":{"field":"hi"}}},
  {"transform":[{"filter":"datum.s=='o'"}],"mark":{"type":"area","color":"#86bfa6","opacity":0.7},"encoding":{"x":{"field":"t","type":"quantitative","title":null},"y":{"field":"lo","type":"quantitative"},"y2":{"field":"hi"}}},
  {"transform":[{"filter":"datum.s=='o'"}],"mark":{"type":"line","color":"#3b7b41","strokeWidth":2.5},"encoding":{"x":{"field":"t","type":"quantitative","title":null},"y":{"field":"m","type":"quantitative"}}},
  {"transform":[{"filter":"datum.s=='p'"}],"mark":{"type":"line","color":"#9c3322","strokeWidth":4},"encoding":{"x":{"field":"t","type":"quantitative","title":null},"y":{"field":"m","type":"quantitative"}}},
  {"transform":[{"filter":"datum.s=='b'"}],"mark":{"type":"line","color":"#1e3b5f","strokeWidth":4},"encoding":{"x":{"field":"t","type":"quantitative","title":null},"y":{"field":"m","type":"quantitative"}}},
  {"transform":[{"aggregate":[{"op":"count","as":"n"}]}],"mark":{"type":"rule","color":"#222"},"encoding":{"x":{"datum":2100}}},
  {"transform":[{"aggregate":[{"op":"count","as":"n"}]}],"mark":{"type":"text","align":"left","baseline":"middle","fontSize":16.5,"fontWeight":"bold","color":"#111"},"encoding":{"x":{"datum":1955.1},"y":{"datum":2215},"text":{"value":"(h) Ocean heat content change"}}},
  {"transform":[{"aggregate":[{"op":"count","as":"n"}]}],"mark":{"type":"text","align":"left","baseline":"middle","fontSize":14,"color":"#222"},"encoding":{"x":{"datum":1955.1},"y":{"datum":1753},"text":{"value":"0-2000m, relative to 1986-2005"}}}
 ]}
],"spacing":25,"bounds":"flush"},
{"vconcat":[
{"width":528,"height":149,
 "data":{"values":[
  {"s":"h","t":1950,"m":-0.3},{"s":"h","t":1955,"m":-0.3},{"s":"h","t":1960,"m":-0.33},{"s":"h","t":1963,"m":-0.4},{"s":"h","t":1965,"m":-0.52},{"s":"h","t":1968,"m":-0.35},{"s":"h","t":1972,"m":-0.3},{"s":"h","t":1977,"m":-0.22},{"s":"h","t":1982,"m":-0.14},{"s":"h","t":1984,"m":-0.28},{"s":"h","t":1988,"m":-0.15},{"s":"h","t":1991,"m":-0.05},{"s":"h","t":1993,"m":-0.28},{"s":"h","t":1997,"m":-0.03},{"s":"h","t":2001,"m":0.08},{"s":"h","t":2005,"m":0.18},
  {"s":"b","t":2006,"lo":0.1,"m":0.18,"hi":0.26},{"s":"b","t":2015,"lo":0.2,"m":0.3,"hi":0.4},{"s":"b","t":2020,"lo":0.27,"m":0.36,"hi":0.45},{"s":"b","t":2030,"lo":0.37,"m":0.46,"hi":0.56},{"s":"b","t":2040,"lo":0.45,"m":0.55,"hi":0.65},{"s":"b","t":2050,"lo":0.52,"m":0.62,"hi":0.72},{"s":"b","t":2060,"lo":0.56,"m":0.66,"hi":0.77},{"s":"b","t":2070,"lo":0.58,"m":0.68,"hi":0.79},{"s":"b","t":2080,"lo":0.58,"m":0.69,"hi":0.8},{"s":"b","t":2090,"lo":0.57,"m":0.68,"hi":0.8},{"s":"b","t":2100,"lo":0.56,"m":0.67,"hi":0.8},
  {"s":"p","t":2006,"lo":0.1,"m":0.18,"hi":0.26},{"s":"p","t":2015,"lo":0.2,"m":0.3,"hi":0.4},{"s":"p","t":2020,"lo":0.29,"m":0.38,"hi":0.47},{"s":"p","t":2030,"lo":0.45,"m":0.55,"hi":0.65},{"s":"p","t":2040,"lo":0.63,"m":0.75,"hi":0.87},{"s":"p","t":2050,"lo":0.86,"m":1.0,"hi":1.14},{"s":"p","t":2060,"lo":1.14,"m":1.3,"hi":1.46},{"s":"p","t":2070,"lo":1.42,"m":1.6,"hi":1.78},{"s":"p","t":2080,"lo":1.75,"m":1.95,"hi":2.15},{"s":"p","t":2090,"lo":2.13,"m":2.35,"hi":2.57},{"s":"p","t":2100,"lo":2.56,"m":2.8,"hi":3.04}
 ]},
 "layer":[
  {"transform":[{"aggregate":[{"op":"count","as":"n"}]}],"mark":{"type":"rule","color":"#d0d0d0"},"encoding":{"x":{"datum":1950,"type":"quantitative","title":null,"scale":{"domain":[1950,2100],"nice":false,"zero":false},"axis":{"values":[1950,1960,1970,1980,1990,2000,2010,2020,2030,2040,2050,2060,2070,2080,2090,2100],"tickCount":40,"labels":false,"labelOverlap":false}},"x2":{"datum":2100},"y":{"datum":4,"type":"quantitative","title":"°C","scale":{"domain":[-1,4],"zero":false,"nice":false},"axis":{"values":[-1,0,1,2,3,4],"tickCount":40,"format":"d","labelOverlap":false,"titlePadding":7}}}},
  {"transform":[{"aggregate":[{"op":"count","as":"n"}]}],"mark":{"type":"rule","color":"#bdbdbd"},"encoding":{"x":{"datum":1950},"x2":{"datum":2100},"y":{"datum":0}}},
  {"transform":[{"filter":"datum.s=='p'"}],"mark":{"type":"area","color":"#f4c7b7"},"encoding":{"x":{"field":"t","type":"quantitative","title":null,"scale":{"domain":[1950,2100],"nice":false,"zero":false},"axis":{"values":[1950,1960,1970,1980,1990,2000,2010,2020,2030,2040,2050,2060,2070,2080,2090,2100],"tickCount":40,"labels":false,"labelOverlap":false}},"y":{"field":"lo","type":"quantitative","title":"°C","scale":{"domain":[-1,4],"zero":false,"nice":false},"axis":{"values":[-1,0,1,2,3,4],"tickCount":40,"format":"d","labelOverlap":false,"titlePadding":7}},"y2":{"field":"hi"}}},
  {"transform":[{"filter":"datum.s=='b'"}],"mark":{"type":"area","color":"#5892bf","blend":"multiply"},"encoding":{"x":{"field":"t","type":"quantitative","title":null},"y":{"field":"lo","type":"quantitative"},"y2":{"field":"hi"}}},
  {"transform":[{"filter":"datum.s=='h'"}],"mark":{"type":"line","color":"#c7a873","strokeWidth":2.5},"encoding":{"x":{"field":"t","type":"quantitative","title":null},"y":{"field":"m","type":"quantitative"}}},
  {"transform":[{"filter":"datum.s=='p'"}],"mark":{"type":"line","color":"#9c3322","strokeWidth":4},"encoding":{"x":{"field":"t","type":"quantitative","title":null},"y":{"field":"m","type":"quantitative"}}},
  {"transform":[{"filter":"datum.s=='b'"}],"mark":{"type":"line","color":"#1e3b5f","strokeWidth":4},"encoding":{"x":{"field":"t","type":"quantitative","title":null},"y":{"field":"m","type":"quantitative"}}},
  {"transform":[{"aggregate":[{"op":"count","as":"n"}]}],"mark":{"type":"rule","color":"#222"},"encoding":{"x":{"datum":2100}}},
  {"transform":[{"aggregate":[{"op":"count","as":"n"}]}],"mark":{"type":"text","align":"left","baseline":"middle","fontSize":16.5,"fontWeight":"bold","color":"#111"},"encoding":{"x":{"datum":1955.4},"y":{"datum":3.1},"text":{"value":"(i) Global mean sea surface temperature change"}}},
  {"transform":[{"aggregate":[{"op":"count","as":"n"}]}],"mark":{"type":"text","align":"left","baseline":"middle","fontSize":14,"color":"#222"},"encoding":{"x":{"datum":1955.4},"y":{"datum":2.3},"text":{"value":"relative to 1986-2005"}}}
 ]},
{"width":528,"height":147,
 "data":{"values":[
  {"s":"h","t":1950,"lo":1.5,"m":2.7,"hi":4},{"s":"h","t":1955,"lo":1.5,"m":2.7,"hi":4},{"s":"h","t":1960,"lo":1.3,"m":2.5,"hi":3.8},{"s":"h","t":1965,"lo":0.3,"m":1.4,"hi":2.6},{"s":"h","t":1970,"lo":1.5,"m":2.7,"hi":4},{"s":"h","t":1975,"lo":2,"m":3.2,"hi":4.5},{"s":"h","t":1980,"lo":2.5,"m":3.8,"hi":5.2},{"s":"h","t":1985,"lo":3,"m":4.3,"hi":5.8},{"s":"h","t":1990,"lo":3.4,"m":4.8,"hi":6.4},{"s":"h","t":1995,"lo":4,"m":5.5,"hi":7.2},{"s":"h","t":2000,"lo":5,"m":6.8,"hi":8.7},{"s":"h","t":2005,"lo":6.3,"m":8.2,"hi":10},
  {"s":"o","t":1983,"m":4.1},{"s":"o","t":1985,"m":2.1},{"s":"o","t":1987,"m":3.5},{"s":"o","t":1988,"m":2.8},{"s":"o","t":1990,"m":1.4},{"s":"o","t":1992,"m":2.8},{"s":"o","t":1994,"m":2.3},{"s":"o","t":1996,"m":3.0},{"s":"o","t":1998,"m":5.5},{"s":"o","t":2000,"m":2.1},{"s":"o","t":2002,"m":2.8},{"s":"o","t":2004,"m":3.5},{"s":"o","t":2006,"m":3.0},{"s":"o","t":2008,"m":3.8},{"s":"o","t":2010,"m":3.2},{"s":"o","t":2011,"m":5.5},{"s":"o","t":2013,"m":3.5},{"s":"o","t":2015,"m":4.5},{"s":"o","t":2017,"m":8.6},
  {"s":"p","t":2006,"lo":6.5,"m":8.3,"hi":10.1},{"s":"p","t":2010,"lo":7.2,"m":9.3,"hi":11.3},{"s":"p","t":2015,"lo":8.3,"m":10.5,"hi":12.8},{"s":"p","t":2020,"lo":9.4,"m":11.8,"hi":14.3},{"s":"p","t":2025,"lo":10.7,"m":13.2,"hi":15.8},{"s":"p","t":2030,"lo":12.0,"m":14.6,"hi":17.3},{"s":"p","t":2035,"lo":13.8,"m":16.5,"hi":19.2},{"s":"p","t":2040,"lo":15.7,"m":18.5,"hi":21.4},{"s":"p","t":2045,"lo":17.6,"m":20.5,"hi":23.5},{"s":"p","t":2050,"lo":19.6,"m":22.5,"hi":25.6},{"s":"p","t":2055,"lo":22.2,"m":25.3,"hi":28.5},{"s":"p","t":2060,"lo":25.2,"m":28.5,"hi":31.6},{"s":"p","t":2065,"lo":27.8,"m":31.2,"hi":34.6},{"s":"p","t":2070,"lo":30.4,"m":34.0,"hi":37.5},{"s":"p","t":2075,"lo":33.5,"m":37.2,"hi":40.8},{"s":"p","t":2080,"lo":36.6,"m":40.5,"hi":44.3},{"s":"p","t":2085,"lo":40.0,"m":44.0,"hi":48.0},{"s":"p","t":2090,"lo":43.5,"m":47.5,"hi":51.6},{"s":"p","t":2095,"lo":46.9,"m":51.2,"hi":55.4},{"s":"p","t":2100,"lo":50.4,"m":55.0,"hi":59.2},
  {"s":"b","t":2006,"lo":6.0,"m":8.3,"hi":10.6},{"s":"b","t":2010,"lo":7.0,"m":9.6,"hi":12.2},{"s":"b","t":2015,"lo":8.5,"m":11.2,"hi":14.0},{"s":"b","t":2020,"lo":9.8,"m":12.8,"hi":15.8},{"s":"b","t":2025,"lo":11.5,"m":14.5,"hi":17.6},{"s":"b","t":2030,"lo":12.5,"m":15.6,"hi":18.8},{"s":"b","t":2035,"lo":13.6,"m":16.8,"hi":20.0},{"s":"b","t":2040,"lo":14.4,"m":17.6,"hi":20.9},{"s":"b","t":2045,"lo":15.0,"m":18.3,"hi":21.6},{"s":"b","t":2050,"lo":15.4,"m":18.8,"hi":22.2},{"s":"b","t":2055,"lo":15.8,"m":19.2,"hi":22.6},{"s":"b","t":2060,"lo":16.0,"m":19.5,"hi":23.0},{"s":"b","t":2065,"lo":16.3,"m":19.8,"hi":23.2},{"s":"b","t":2070,"lo":16.4,"m":19.9,"hi":23.5},{"s":"b","t":2075,"lo":16.2,"m":19.8,"hi":23.2},{"s":"b","t":2080,"lo":16.5,"m":20.0,"hi":23.6},{"s":"b","t":2085,"lo":16.3,"m":19.8,"hi":23.4},{"s":"b","t":2090,"lo":16.6,"m":20.1,"hi":23.7},{"s":"b","t":2095,"lo":16.4,"m":20.0,"hi":23.8},{"s":"b","t":2100,"lo":16.5,"m":20.2,"hi":24.0}
 ]},
 "layer":[
  {"transform":[{"aggregate":[{"op":"count","as":"n"}]}],"mark":{"type":"rule","color":"#d0d0d0"},"encoding":{"x":{"datum":1950,"type":"quantitative","title":null,"scale":{"domain":[1950,2100],"nice":false,"zero":false},"axis":{"values":[1950,1960,1970,1980,1990,2000,2010,2020,2030,2040,2050,2060,2070,2080,2090,2100],"tickCount":40,"labels":false,"labelOverlap":false}},"x2":{"datum":2100},"y":{"datum":60,"type":"quantitative","title":"probability ratio","scale":{"domain":[0,60],"zero":false,"nice":false},"axis":{"values":[0,15,30,45,60],"tickCount":40,"format":"d","labelOverlap":false,"titlePadding":7}}}},
  {"transform":[{"filter":"datum.s=='h'"}],"mark":{"type":"area","color":"#e0cfa9"},"encoding":{"x":{"field":"t","type":"quantitative","title":null,"scale":{"domain":[1950,2100],"nice":false,"zero":false},"axis":{"values":[1950,1960,1970,1980,1990,2000,2010,2020,2030,2040,2050,2060,2070,2080,2090,2100],"tickCount":40,"labels":false,"labelOverlap":false}},"y":{"field":"lo","type":"quantitative","title":"probability ratio","scale":{"domain":[0,60],"zero":false,"nice":false},"axis":{"values":[0,15,30,45,60],"tickCount":40,"format":"d","labelOverlap":false,"titlePadding":7}},"y2":{"field":"hi"}}},
  {"transform":[{"filter":"datum.s=='p'"}],"mark":{"type":"area","color":"#f4c7b7"},"encoding":{"x":{"field":"t","type":"quantitative","title":null},"y":{"field":"lo","type":"quantitative"},"y2":{"field":"hi"}}},
  {"transform":[{"filter":"datum.s=='b'"}],"mark":{"type":"area","color":"#5892bf","blend":"multiply"},"encoding":{"x":{"field":"t","type":"quantitative","title":null},"y":{"field":"lo","type":"quantitative"},"y2":{"field":"hi"}}},
  {"transform":[{"filter":"datum.s=='h'"}],"mark":{"type":"line","color":"#c7a873","strokeWidth":2.5},"encoding":{"x":{"field":"t","type":"quantitative","title":null},"y":{"field":"m","type":"quantitative"}}},
  {"transform":[{"filter":"datum.s=='o'"}],"mark":{"type":"line","color":"#3b7b41","strokeWidth":1.6},"encoding":{"x":{"field":"t","type":"quantitative","title":null},"y":{"field":"m","type":"quantitative"}}},
  {"transform":[{"filter":"datum.s=='p'"}],"mark":{"type":"line","color":"#9c3322","strokeWidth":4},"encoding":{"x":{"field":"t","type":"quantitative","title":null},"y":{"field":"m","type":"quantitative"}}},
  {"transform":[{"filter":"datum.s=='b'"}],"mark":{"type":"line","color":"#1e3b5f","strokeWidth":4},"encoding":{"x":{"field":"t","type":"quantitative","title":null},"y":{"field":"m","type":"quantitative"}}},
  {"transform":[{"aggregate":[{"op":"count","as":"n"}]}],"mark":{"type":"rule","color":"#222"},"encoding":{"x":{"datum":2100}}},
  {"transform":[{"aggregate":[{"op":"count","as":"n"}]}],"mark":{"type":"text","align":"left","baseline":"middle","fontSize":16.5,"fontWeight":"bold","color":"#111"},"encoding":{"x":{"datum":1954.8},"y":{"datum":49.4},"text":{"value":"(j) Probability of marine heatwaves"}}},
  {"transform":[{"aggregate":[{"op":"count","as":"n"}]}],"mark":{"type":"text","align":"left","baseline":"middle","fontSize":14,"color":"#222"},"encoding":{"x":{"datum":1954.8},"y":{"datum":39.2},"text":{"value":"surface ocean global mean (relative to 1850-1900)"}}}
 ]},
{"width":528,"height":148,
 "data":{"values":[
  {"s":"h","t":1950,"m":8.133},{"s":"h","t":1960,"m":8.132},{"s":"h","t":1970,"m":8.13},{"s":"h","t":1980,"m":8.122},{"s":"h","t":1990,"m":8.11},{"s":"h","t":2000,"m":8.093},{"s":"h","t":2005,"m":8.081},
  {"s":"o","t":1980,"m":8.126},{"s":"o","t":1990,"m":8.105},{"s":"o","t":2000,"m":8.082},{"s":"o","t":2013,"m":8.051},
  {"s":"b","t":2006,"m":8.074},{"s":"b","t":2015,"m":8.05},{"s":"b","t":2020,"m":8.038},{"s":"b","t":2030,"m":8.024},{"s":"b","t":2040,"m":8.015},{"s":"b","t":2050,"m":8.011},{"s":"b","t":2060,"m":8.01},{"s":"b","t":2070,"m":8.011},{"s":"b","t":2080,"m":8.014},{"s":"b","t":2090,"m":8.019},{"s":"b","t":2100,"m":8.026},
  {"s":"p","t":2006,"m":8.074},{"s":"p","t":2015,"m":8.05},{"s":"p","t":2020,"m":8.037},{"s":"p","t":2030,"m":8.02},{"s":"p","t":2040,"m":7.995},{"s":"p","t":2050,"m":7.964},{"s":"p","t":2060,"m":7.915},{"s":"p","t":2070,"m":7.863},{"s":"p","t":2080,"m":7.818},{"s":"p","t":2090,"m":7.775},{"s":"p","t":2100,"m":7.731}
 ]},
 "layer":[
  {"transform":[{"aggregate":[{"op":"count","as":"n"}]}],"mark":{"type":"rule","color":"#d0d0d0"},"encoding":{"x":{"datum":1950,"type":"quantitative","title":null,"scale":{"domain":[1950,2100],"nice":false,"zero":false},"axis":{"values":[1950,1960,1970,1980,1990,2000,2010,2020,2030,2040,2050,2060,2070,2080,2090,2100],"tickCount":40,"labels":false,"labelOverlap":false}},"x2":{"datum":2100},"y":{"datum":8.2,"type":"quantitative","title":"pH units","scale":{"domain":[7.6,8.2],"zero":false,"nice":false},"axis":{"values":[7.6,7.7,7.8,7.9,8.0,8.1,8.2],"tickCount":40,"format":".1f","labelOverlap":false,"titlePadding":7}}}},
  {"transform":[{"filter":"datum.s=='h'"}],"mark":{"type":"line","color":"#d4bd8c","strokeWidth":4},"encoding":{"x":{"field":"t","type":"quantitative","title":null,"scale":{"domain":[1950,2100],"nice":false,"zero":false},"axis":{"values":[1950,1960,1970,1980,1990,2000,2010,2020,2030,2040,2050,2060,2070,2080,2090,2100],"tickCount":40,"labels":false,"labelOverlap":false}},"y":{"field":"m","type":"quantitative","title":"pH units","scale":{"domain":[7.6,8.2],"zero":false,"nice":false},"axis":{"values":[7.6,7.7,7.8,7.9,8.0,8.1,8.2],"tickCount":40,"format":".1f","labelOverlap":false,"titlePadding":7}}}},
  {"transform":[{"filter":"datum.s=='o'"}],"mark":{"type":"line","color":"#3b7b41","strokeWidth":2},"encoding":{"x":{"field":"t","type":"quantitative","title":null},"y":{"field":"m","type":"quantitative"}}},
  {"transform":[{"filter":"datum.s=='p'"}],"mark":{"type":"line","color":"#9c3322","strokeWidth":4},"encoding":{"x":{"field":"t","type":"quantitative","title":null},"y":{"field":"m","type":"quantitative"}}},
  {"transform":[{"filter":"datum.s=='b'"}],"mark":{"type":"line","color":"#1e3b5f","strokeWidth":4},"encoding":{"x":{"field":"t","type":"quantitative","title":null},"y":{"field":"m","type":"quantitative"}}},
  {"transform":[{"aggregate":[{"op":"count","as":"n"}]}],"mark":{"type":"rule","color":"#222"},"encoding":{"x":{"datum":2100}}},
  {"transform":[{"aggregate":[{"op":"count","as":"n"}]}],"mark":{"type":"text","align":"left","baseline":"middle","fontSize":16.5,"fontWeight":"bold","color":"#111"},"encoding":{"x":{"datum":1955.7},"y":{"datum":7.904},"text":{"value":"(k) Surface ocean pH"}}},
  {"transform":[{"aggregate":[{"op":"count","as":"n"}]}],"mark":{"type":"text","align":"left","baseline":"middle","fontSize":14,"color":"#222"},"encoding":{"x":{"datum":1955.9},"y":{"datum":7.789},"text":{"value":"(global mean)"}}}
 ]},
{"width":528,"height":147,
 "data":{"values":[
  {"s":"h","t":1950,"lo":5.3,"m":7.0,"hi":8.6},{"s":"h","t":1955,"lo":5.5,"m":7.0,"hi":8.7},{"s":"h","t":1960,"lo":5.6,"m":7.1,"hi":8.7},{"s":"h","t":1965,"lo":5.8,"m":7.3,"hi":8.8},{"s":"h","t":1970,"lo":5.8,"m":7.4,"hi":8.9},{"s":"h","t":1975,"lo":5.6,"m":7.35,"hi":8.8},{"s":"h","t":1980,"lo":5.3,"m":7.1,"hi":8.6},{"s":"h","t":1985,"lo":5.0,"m":6.8,"hi":8.5},{"s":"h","t":1990,"lo":4.6,"m":6.4,"hi":8.2},{"s":"h","t":1995,"lo":4.2,"m":6.2,"hi":8.0},{"s":"h","t":2000,"lo":3.8,"m":5.95,"hi":7.8},{"s":"h","t":2006,"lo":3.4,"m":5.7,"hi":7.5},
  {"s":"o","t":1979,"lo":7.1,"m":7.5,"hi":7.9},{"s":"o","t":1980,"lo":7.7,"m":8.1,"hi":8.5},{"s":"o","t":1981,"lo":7.2,"m":7.6,"hi":8.0},{"s":"o","t":1982,"lo":7.35,"m":7.75,"hi":8.15},{"s":"o","t":1983,"lo":7.45,"m":7.85,"hi":8.25},{"s":"o","t":1984,"lo":6.85,"m":7.25,"hi":7.65},{"s":"o","t":1985,"lo":6.75,"m":7.15,"hi":7.55},{"s":"o","t":1986,"lo":7.45,"m":7.85,"hi":8.25},{"s":"o","t":1987,"lo":7.35,"m":7.75,"hi":8.15},{"s":"o","t":1988,"lo":7.4,"m":7.8,"hi":8.2},{"s":"o","t":1989,"lo":7.05,"m":7.45,"hi":7.85},{"s":"o","t":1990,"lo":6.2,"m":6.6,"hi":7.0},{"s":"o","t":1991,"lo":6.5,"m":6.9,"hi":7.3},{"s":"o","t":1992,"lo":7.5,"m":7.9,"hi":8.3},{"s":"o","t":1993,"lo":6.45,"m":6.85,"hi":7.25},{"s":"o","t":1994,"lo":7.2,"m":7.6,"hi":8.0},{"s":"o","t":1995,"lo":6.1,"m":6.5,"hi":6.9},{"s":"o","t":1996,"lo":7.6,"m":8.0,"hi":8.4},{"s":"o","t":1997,"lo":6.75,"m":7.15,"hi":7.55},{"s":"o","t":1998,"lo":6.6,"m":7.0,"hi":7.4},{"s":"o","t":1999,"lo":6.15,"m":6.55,"hi":6.95},{"s":"o","t":2000,"lo":6.3,"m":6.7,"hi":7.1},{"s":"o","t":2001,"lo":6.8,"m":7.2,"hi":7.6},{"s":"o","t":2002,"lo":5.9,"m":6.3,"hi":6.7},{"s":"o","t":2003,"lo":6.15,"m":6.55,"hi":6.95},{"s":"o","t":2004,"lo":6.05,"m":6.45,"hi":6.85},{"s":"o","t":2005,"lo":5.55,"m":5.95,"hi":6.35},{"s":"o","t":2006,"lo":5.9,"m":6.3,"hi":6.7},{"s":"o","t":2007,"lo":4.3,"m":4.7,"hi":5.1},{"s":"o","t":2008,"lo":4.75,"m":5.15,"hi":5.55},{"s":"o","t":2009,"lo":5.3,"m":5.7,"hi":6.1},{"s":"o","t":2010,"lo":4.9,"m":5.3,"hi":5.7},{"s":"o","t":2011,"lo":4.6,"m":5.0,"hi":5.4},{"s":"o","t":2012,"lo":3.6,"m":4.0,"hi":4.4},{"s":"o","t":2013,"lo":5.25,"m":5.65,"hi":6.05},{"s":"o","t":2014,"lo":5.25,"m":5.65,"hi":6.05},{"s":"o","t":2015,"lo":4.65,"m":5.05,"hi":5.45},{"s":"o","t":2016,"lo":4.6,"m":5.0,"hi":5.4},{"s":"o","t":2017,"lo":4.85,"m":5.25,"hi":5.65},{"s":"o","t":2018,"lo":4.85,"m":5.25,"hi":5.65},
  {"s":"p","t":2007,"lo":3.6,"m":5.7,"hi":7.7},{"s":"p","t":2010,"lo":3.3,"m":5.5,"hi":7.6},{"s":"p","t":2014,"lo":3.0,"m":5.3,"hi":7.5},{"s":"p","t":2018,"lo":2.8,"m":5.1,"hi":7.3},{"s":"p","t":2022,"lo":2.5,"m":4.8,"hi":7.1},{"s":"p","t":2026,"lo":2.1,"m":4.5,"hi":6.9},{"s":"p","t":2030,"lo":1.7,"m":4.25,"hi":6.6},{"s":"p","t":2034,"lo":1.3,"m":3.85,"hi":6.2},{"s":"p","t":2038,"lo":1.0,"m":3.6,"hi":5.9},{"s":"p","t":2042,"lo":0.6,"m":3.35,"hi":5.5},{"s":"p","t":2046,"lo":0.4,"m":2.85,"hi":5.1},{"s":"p","t":2050,"lo":0.2,"m":2.5,"hi":4.7},{"s":"p","t":2054,"lo":0.1,"m":2.25,"hi":4.3},{"s":"p","t":2058,"lo":0.0,"m":1.85,"hi":3.9},{"s":"p","t":2062,"lo":0.0,"m":1.5,"hi":3.5},{"s":"p","t":2066,"lo":0.0,"m":1.3,"hi":3.2},{"s":"p","t":2070,"lo":0.0,"m":1.1,"hi":2.9},{"s":"p","t":2074,"lo":0.0,"m":0.9,"hi":2.6},{"s":"p","t":2078,"lo":0.0,"m":0.75,"hi":2.4},{"s":"p","t":2082,"lo":0.0,"m":0.7,"hi":2.2},{"s":"p","t":2086,"lo":0.0,"m":0.7,"hi":2.0},{"s":"p","t":2090,"lo":0.0,"m":0.6,"hi":1.9},{"s":"p","t":2094,"lo":0.0,"m":0.5,"hi":1.8},{"s":"p","t":2098,"lo":0.0,"m":0.55,"hi":1.7},{"s":"p","t":2100,"lo":0.0,"m":0.55,"hi":1.7},
  {"s":"b","t":2007,"lo":3.6,"m":5.7,"hi":7.7},{"s":"b","t":2010,"lo":3.4,"m":5.5,"hi":7.6},{"s":"b","t":2014,"lo":3.1,"m":5.3,"hi":7.5},{"s":"b","t":2018,"lo":2.9,"m":5.1,"hi":7.4},{"s":"b","t":2022,"lo":2.6,"m":4.9,"hi":7.2},{"s":"b","t":2026,"lo":2.3,"m":4.7,"hi":7.0},{"s":"b","t":2030,"lo":2.0,"m":4.4,"hi":6.8},{"s":"b","t":2034,"lo":1.7,"m":4.2,"hi":6.6},{"s":"b","t":2038,"lo":1.5,"m":4.0,"hi":6.3},{"s":"b","t":2042,"lo":1.3,"m":3.8,"hi":6.1},{"s":"b","t":2046,"lo":1.2,"m":3.6,"hi":5.9},{"s":"b","t":2050,"lo":1.2,"m":3.5,"hi":6.0},{"s":"b","t":2054,"lo":1.3,"m":3.7,"hi":6.2},{"s":"b","t":2058,"lo":1.2,"m":3.5,"hi":6.0},{"s":"b","t":2062,"lo":1.3,"m":3.6,"hi":6.3},{"s":"b","t":2066,"lo":1.4,"m":3.7,"hi":6.2},{"s":"b","t":2070,"lo":1.3,"m":3.5,"hi":6.1},{"s":"b","t":2074,"lo":1.3,"m":3.6,"hi":6.3},{"s":"b","t":2078,"lo":1.2,"m":3.7,"hi":6.2},{"s":"b","t":2082,"lo":1.5,"m":3.9,"hi":6.4},{"s":"b","t":2086,"lo":1.3,"m":3.7,"hi":6.1},{"s":"b","t":2090,"lo":1.4,"m":3.8,"hi":6.3},{"s":"b","t":2094,"lo":1.3,"m":3.9,"hi":6.2},{"s":"b","t":2098,"lo":1.4,"m":3.7,"hi":6.4},{"s":"b","t":2100,"lo":1.3,"m":3.9,"hi":6.4}
 ]},
 "layer":[
  {"transform":[{"aggregate":[{"op":"count","as":"n"}]}],"mark":{"type":"rule","color":"#d0d0d0"},"encoding":{"x":{"datum":1950,"type":"quantitative","title":null,"scale":{"domain":[1950,2100],"nice":false,"zero":false},"axis":{"values":[1950,1960,1970,1980,1990,2000,2010,2020,2030,2040,2050,2060,2070,2080,2090,2100],"tickCount":40,"labels":false,"labelOverlap":false}},"x2":{"datum":2100},"y":{"datum":9,"type":"quantitative","title":"million km²","scale":{"domain":[0,9],"zero":false,"nice":false},"axis":{"values":[0,1,2,3,4,5,6,7,8,9],"tickCount":40,"format":"d","labelExpr":"datum.value % 3 == 0 ? datum.label : ''","labelOverlap":false,"titlePadding":7}}}},
  {"transform":[{"filter":"datum.s=='h'"}],"mark":{"type":"area","color":"#e0cfa9"},"encoding":{"x":{"field":"t","type":"quantitative","title":null,"scale":{"domain":[1950,2100],"nice":false,"zero":false},"axis":{"values":[1950,1960,1970,1980,1990,2000,2010,2020,2030,2040,2050,2060,2070,2080,2090,2100],"tickCount":40,"labels":false,"labelOverlap":false}},"y":{"field":"lo","type":"quantitative","title":"million km²","scale":{"domain":[0,9],"zero":false,"nice":false},"axis":{"values":[0,1,2,3,4,5,6,7,8,9],"tickCount":40,"format":"d","labelExpr":"datum.value % 3 == 0 ? datum.label : ''","labelOverlap":false,"titlePadding":7}},"y2":{"field":"hi"}}},
  {"transform":[{"filter":"datum.s=='p'"}],"mark":{"type":"area","color":"#f4c7b7"},"encoding":{"x":{"field":"t","type":"quantitative","title":null},"y":{"field":"lo","type":"quantitative"},"y2":{"field":"hi"}}},
  {"transform":[{"filter":"datum.s=='b'"}],"mark":{"type":"area","color":"#5892bf","blend":"multiply"},"encoding":{"x":{"field":"t","type":"quantitative","title":null},"y":{"field":"lo","type":"quantitative"},"y2":{"field":"hi"}}},
  {"transform":[{"filter":"datum.s=='o'"}],"mark":{"type":"area","color":"#82b3a3","opacity":0.65},"encoding":{"x":{"field":"t","type":"quantitative","title":null},"y":{"field":"lo","type":"quantitative"},"y2":{"field":"hi"}}},
  {"transform":[{"filter":"datum.s=='h'"}],"mark":{"type":"line","color":"#c7a873","strokeWidth":3},"encoding":{"x":{"field":"t","type":"quantitative","title":null},"y":{"field":"m","type":"quantitative"}}},
  {"transform":[{"filter":"datum.s=='p'"}],"mark":{"type":"line","color":"#9c3322","strokeWidth":3.5},"encoding":{"x":{"field":"t","type":"quantitative","title":null},"y":{"field":"m","type":"quantitative"}}},
  {"transform":[{"filter":"datum.s=='b'"}],"mark":{"type":"line","color":"#1e3b5f","strokeWidth":3.5},"encoding":{"x":{"field":"t","type":"quantitative","title":null},"y":{"field":"m","type":"quantitative"}}},
  {"transform":[{"filter":"datum.s=='o'"}],"mark":{"type":"line","color":"#3b7b41","strokeWidth":1.6},"encoding":{"x":{"field":"t","type":"quantitative","title":null},"y":{"field":"m","type":"quantitative"}}},
  {"transform":[{"aggregate":[{"op":"count","as":"n"}]}],"mark":{"type":"rule","color":"#222"},"encoding":{"x":{"datum":2100}}},
  {"transform":[{"aggregate":[{"op":"count","as":"n"}]}],"mark":{"type":"text","align":"left","baseline":"middle","fontSize":16.5,"fontWeight":"bold","color":"#111"},"encoding":{"x":{"datum":1955.1},"y":{"datum":2.55},"text":{"value":"(l) Arctic sea-ice extent"}}},
  {"transform":[{"aggregate":[{"op":"count","as":"n"}]}],"mark":{"type":"text","align":"left","baseline":"middle","fontSize":14,"color":"#222"},"encoding":{"x":{"datum":1955.1},"y":{"datum":1.03},"text":{"value":"(September)"}}}
 ]},
{"width":528,"height":146,
 "data":{"values":[
  {"s":"h","t":1950,"lo":2.6,"m":5.9,"hi":9.2},{"s":"h","t":1955,"lo":2.6,"m":5.9,"hi":9.25},{"s":"h","t":1960,"lo":2.5,"m":5.9,"hi":9.15},{"s":"h","t":1965,"lo":2.5,"m":5.9,"hi":9.1},{"s":"h","t":1970,"lo":2.5,"m":5.85,"hi":9.1},{"s":"h","t":1975,"lo":2.45,"m":5.8,"hi":9.0},{"s":"h","t":1980,"lo":2.4,"m":5.7,"hi":8.95},{"s":"h","t":1985,"lo":2.35,"m":5.6,"hi":8.85},{"s":"h","t":1990,"lo":2.3,"m":5.5,"hi":8.8},{"s":"h","t":1995,"lo":2.25,"m":5.4,"hi":8.7},{"s":"h","t":2000,"lo":2.2,"m":5.3,"hi":8.55},{"s":"h","t":2006,"lo":2.1,"m":5.15,"hi":8.4},
  {"s":"ob","t":1968,"lo":3.9,"hi":8.8},{"s":"ob","t":1975,"lo":3.9,"hi":9.1},{"s":"ob","t":1980,"lo":3.9,"hi":9.0},{"s":"ob","t":1985,"lo":3.9,"hi":8.6},{"s":"ob","t":1990,"lo":3.85,"hi":7.9},{"s":"ob","t":1995,"lo":3.85,"hi":7.1},{"s":"ob","t":2000,"lo":3.8,"hi":6.2},{"s":"ob","t":2006,"lo":3.7,"hi":5.6},{"s":"ob","t":2010,"lo":3.25,"hi":5.2},{"s":"ob","t":2015,"lo":2.9,"hi":4.9},{"s":"ob","t":2019,"lo":2.7,"hi":4.5},
  {"s":"o","t":1968,"m":8.35},{"s":"o","t":1969,"m":4.9},{"s":"o","t":1970,"m":7.3},{"s":"o","t":1971,"m":5.4},{"s":"o","t":1972,"m":6.6},{"s":"o","t":1973,"m":6.2},{"s":"o","t":1974,"m":6.6},{"s":"o","t":1975,"m":5.9},{"s":"o","t":1976,"m":7.3},{"s":"o","t":1977,"m":6.9},{"s":"o","t":1978,"m":7.6},{"s":"o","t":1979,"m":9.1},{"s":"o","t":1980,"m":6.4},{"s":"o","t":1981,"m":5.4},{"s":"o","t":1982,"m":4.3},{"s":"o","t":1983,"m":5.4},{"s":"o","t":1984,"m":5.8},{"s":"o","t":1985,"m":6.3},{"s":"o","t":1986,"m":6.6},{"s":"o","t":1987,"m":7.8},{"s":"o","t":1988,"m":4.9},{"s":"o","t":1989,"m":3.9},{"s":"o","t":1990,"m":6.2},{"s":"o","t":1991,"m":4.5},{"s":"o","t":1992,"m":4.9},{"s":"o","t":1993,"m":4.7},{"s":"o","t":1994,"m":6.8},{"s":"o","t":1995,"m":4.9},{"s":"o","t":1996,"m":5.0},{"s":"o","t":1997,"m":6.1},{"s":"o","t":1998,"m":4.9},{"s":"o","t":1999,"m":4.5},{"s":"o","t":2000,"m":5.0},{"s":"o","t":2001,"m":5.6},{"s":"o","t":2002,"m":5.3},{"s":"o","t":2003,"m":4.6},{"s":"o","t":2004,"m":5.6},{"s":"o","t":2005,"m":6.1},{"s":"o","t":2006,"m":3.9},{"s":"o","t":2007,"m":4.9},{"s":"o","t":2008,"m":4.0},{"s":"o","t":2009,"m":3.9},{"s":"o","t":2010,"m":3.6},{"s":"o","t":2011,"m":3.2},{"s":"o","t":2012,"m":3.4},{"s":"o","t":2013,"m":3.2},{"s":"o","t":2014,"m":3.3},{"s":"o","t":2015,"m":4.5},{"s":"o","t":2016,"m":3.5},{"s":"o","t":2017,"m":3.4},{"s":"o","t":2018,"m":3.6},{"s":"o","t":2019,"m":5.6},
  {"s":"b","t":2007,"lo":2.5,"m":5.5,"hi":8.4},{"s":"b","t":2012,"lo":2.5,"m":5.4,"hi":8.3},{"s":"b","t":2017,"lo":2.4,"m":5.3,"hi":8.1},{"s":"b","t":2022,"lo":2.35,"m":5.25,"hi":8.0},{"s":"b","t":2027,"lo":2.3,"m":5.2,"hi":7.9},{"s":"b","t":2032,"lo":2.25,"m":5.15,"hi":7.8},{"s":"b","t":2037,"lo":2.2,"m":5.05,"hi":7.9},{"s":"b","t":2042,"lo":2.15,"m":5.0,"hi":7.75},{"s":"b","t":2047,"lo":2.1,"m":5.0,"hi":7.85},{"s":"b","t":2052,"lo":2.05,"m":4.95,"hi":7.8},{"s":"b","t":2057,"lo":2.05,"m":5.0,"hi":7.75},{"s":"b","t":2062,"lo":2.0,"m":4.95,"hi":8.0},{"s":"b","t":2067,"lo":2.0,"m":4.95,"hi":7.8},{"s":"b","t":2072,"lo":2.0,"m":4.95,"hi":7.65},{"s":"b","t":2077,"lo":2.0,"m":5.0,"hi":7.75},{"s":"b","t":2082,"lo":1.95,"m":4.95,"hi":7.6},{"s":"b","t":2087,"lo":1.95,"m":4.95,"hi":7.7},{"s":"b","t":2092,"lo":1.95,"m":5.0,"hi":7.55},{"s":"b","t":2097,"lo":1.9,"m":4.9,"hi":7.65},{"s":"b","t":2100,"lo":1.9,"m":4.7,"hi":7.4},
  {"s":"p","t":2007,"lo":2.4,"m":5.2,"hi":8.2},{"s":"p","t":2012,"lo":2.35,"m":5.1,"hi":8.0},{"s":"p","t":2017,"lo":2.3,"m":5.0,"hi":7.8},{"s":"p","t":2022,"lo":2.25,"m":4.9,"hi":7.6},{"s":"p","t":2027,"lo":2.15,"m":4.75,"hi":7.45},{"s":"p","t":2032,"lo":2.05,"m":4.65,"hi":7.25},{"s":"p","t":2037,"lo":2.0,"m":4.5,"hi":7.0},{"s":"p","t":2042,"lo":1.95,"m":4.35,"hi":6.75},{"s":"p","t":2047,"lo":1.9,"m":4.2,"hi":6.45},{"s":"p","t":2052,"lo":1.85,"m":4.05,"hi":6.15},{"s":"p","t":2057,"lo":1.8,"m":3.9,"hi":5.9},{"s":"p","t":2062,"lo":1.7,"m":3.75,"hi":5.6},{"s":"p","t":2067,"lo":1.65,"m":3.6,"hi":5.4},{"s":"p","t":2072,"lo":1.6,"m":3.45,"hi":5.2},{"s":"p","t":2077,"lo":1.55,"m":3.3,"hi":5.0},{"s":"p","t":2082,"lo":1.5,"m":3.2,"hi":4.85},{"s":"p","t":2087,"lo":1.45,"m":3.1,"hi":4.7},{"s":"p","t":2092,"lo":1.4,"m":3.0,"hi":4.55},{"s":"p","t":2097,"lo":1.35,"m":2.85,"hi":4.45},{"s":"p","t":2100,"lo":1.3,"m":2.75,"hi":4.4}
 ]},
 "layer":[
  {"transform":[{"aggregate":[{"op":"count","as":"n"}]}],"mark":{"type":"rule","color":"#d0d0d0"},"encoding":{"x":{"datum":1950,"type":"quantitative","title":null,"scale":{"domain":[1950,2100],"nice":false,"zero":false},"axis":{"values":[1950,1960,1970,1980,1990,2000,2010,2020,2030,2040,2050,2060,2070,2080,2090,2100],"tickCount":40,"labels":false,"labelOverlap":false}},"x2":{"datum":2100},"y":{"datum":10,"type":"quantitative","title":"million km²","scale":{"domain":[0,10],"zero":false,"nice":false},"axis":{"values":[0,2.5,5,7.5,10],"tickCount":40,"format":".1~f","labelExpr":"replace(datum.label, '.', ',')","labelOverlap":false,"titlePadding":7}}}},
  {"transform":[{"filter":"datum.s=='h'"}],"mark":{"type":"area","color":"#e0cfa9"},"encoding":{"x":{"field":"t","type":"quantitative","title":null,"scale":{"domain":[1950,2100],"nice":false,"zero":false},"axis":{"values":[1950,1960,1970,1980,1990,2000,2010,2020,2030,2040,2050,2060,2070,2080,2090,2100],"tickCount":40,"labels":false,"labelOverlap":false}},"y":{"field":"lo","type":"quantitative","title":"million km²","scale":{"domain":[0,10],"zero":false,"nice":false},"axis":{"values":[0,2.5,5,7.5,10],"tickCount":40,"format":".1~f","labelExpr":"replace(datum.label, '.', ',')","labelOverlap":false,"titlePadding":7}},"y2":{"field":"hi"}}},
  {"transform":[{"filter":"datum.s=='p'"}],"mark":{"type":"area","color":"#f4c7b7"},"encoding":{"x":{"field":"t","type":"quantitative","title":null},"y":{"field":"lo","type":"quantitative"},"y2":{"field":"hi"}}},
  {"transform":[{"filter":"datum.s=='b'"}],"mark":{"type":"area","color":"#5892bf","blend":"multiply"},"encoding":{"x":{"field":"t","type":"quantitative","title":null},"y":{"field":"lo","type":"quantitative"},"y2":{"field":"hi"}}},
  {"transform":[{"filter":"datum.s=='ob'"}],"mark":{"type":"area","color":"#82b3a3","opacity":0.65},"encoding":{"x":{"field":"t","type":"quantitative","title":null},"y":{"field":"lo","type":"quantitative"},"y2":{"field":"hi"}}},
  {"transform":[{"filter":"datum.s=='h'"}],"mark":{"type":"line","color":"#c7a873","strokeWidth":3},"encoding":{"x":{"field":"t","type":"quantitative","title":null},"y":{"field":"m","type":"quantitative"}}},
  {"transform":[{"filter":"datum.s=='p'"}],"mark":{"type":"line","color":"#9c3322","strokeWidth":3.5},"encoding":{"x":{"field":"t","type":"quantitative","title":null},"y":{"field":"m","type":"quantitative"}}},
  {"transform":[{"filter":"datum.s=='b'"}],"mark":{"type":"line","color":"#1e3b5f","strokeWidth":3.5},"encoding":{"x":{"field":"t","type":"quantitative","title":null},"y":{"field":"m","type":"quantitative"}}},
  {"transform":[{"filter":"datum.s=='o'"}],"mark":{"type":"line","color":"#3b7b41","strokeWidth":1.6},"encoding":{"x":{"field":"t","type":"quantitative","title":null},"y":{"field":"m","type":"quantitative"}}},
  {"transform":[{"aggregate":[{"op":"count","as":"n"}]}],"mark":{"type":"rule","color":"#222"},"encoding":{"x":{"datum":2100}}},
  {"transform":[{"aggregate":[{"op":"count","as":"n"}]}],"mark":{"type":"text","align":"left","baseline":"middle","fontSize":16.5,"fontWeight":"bold","color":"#111"},"encoding":{"x":{"datum":1954.5},"y":{"datum":1.08},"text":{"value":"(m) Arctic snow cover"}}},
  {"transform":[{"aggregate":[{"op":"count","as":"n"}]}],"mark":{"type":"text","align":"left","baseline":"middle","fontSize":13.5,"color":"#222"},"encoding":{"x":{"datum":2006.5},"y":{"datum":1.01},"text":{"value":"(June)"}}}
 ]},
{"width":528,"height":146,
 "data":{"values":[
  {"s":"h","t":1950,"lo":8.7,"m":16.0,"hi":23.4},{"s":"h","t":1955,"lo":8.6,"m":16.0,"hi":23.5},{"s":"h","t":1960,"lo":8.6,"m":16.1,"hi":23.6},{"s":"h","t":1965,"lo":8.5,"m":16.2,"hi":23.8},{"s":"h","t":1970,"lo":8.4,"m":16.2,"hi":23.7},{"s":"h","t":1975,"lo":8.3,"m":16.1,"hi":23.6},{"s":"h","t":1980,"lo":8.1,"m":15.9,"hi":23.4},{"s":"h","t":1985,"lo":7.9,"m":15.6,"hi":23.1},{"s":"h","t":1990,"lo":7.6,"m":15.3,"hi":22.9},{"s":"h","t":1995,"lo":7.4,"m":15.0,"hi":22.6},{"s":"h","t":2000,"lo":7.2,"m":14.7,"hi":22.4},{"s":"h","t":2003,"lo":7.0,"m":14.5,"hi":22.3},
  {"s":"b","t":2007,"lo":6.7,"m":14.0,"hi":20.5},{"s":"b","t":2015,"lo":6.3,"m":13.5,"hi":20.0},{"s":"b","t":2020,"lo":6.0,"m":13.0,"hi":19.7},{"s":"b","t":2025,"lo":5.7,"m":12.6,"hi":19.3},{"s":"b","t":2030,"lo":5.4,"m":12.2,"hi":18.9},{"s":"b","t":2035,"lo":5.1,"m":11.9,"hi":18.5},{"s":"b","t":2040,"lo":4.8,"m":11.6,"hi":18.1},{"s":"b","t":2045,"lo":4.6,"m":11.4,"hi":17.8},{"s":"b","t":2050,"lo":4.5,"m":11.2,"hi":17.6},{"s":"b","t":2055,"lo":4.4,"m":11.1,"hi":17.4},{"s":"b","t":2060,"lo":4.3,"m":11.0,"hi":17.3},{"s":"b","t":2070,"lo":4.2,"m":10.9,"hi":17.2},{"s":"b","t":2080,"lo":4.1,"m":10.8,"hi":17.3},{"s":"b","t":2090,"lo":4.1,"m":10.8,"hi":17.2},{"s":"b","t":2100,"lo":4.0,"m":10.7,"hi":17.3},
  {"s":"p","t":2007,"lo":6.5,"m":13.8,"hi":21.0},{"s":"p","t":2015,"lo":5.8,"m":13.2,"hi":20.3},{"s":"p","t":2020,"lo":5.3,"m":12.8,"hi":19.8},{"s":"p","t":2025,"lo":4.8,"m":12.4,"hi":19.3},{"s":"p","t":2030,"lo":4.3,"m":12.0,"hi":18.6},{"s":"p","t":2035,"lo":3.7,"m":11.5,"hi":17.9},{"s":"p","t":2040,"lo":3.1,"m":11.0,"hi":17.3},{"s":"p","t":2045,"lo":2.6,"m":10.4,"hi":16.8},{"s":"p","t":2050,"lo":2.0,"m":9.8,"hi":16.3},{"s":"p","t":2055,"lo":1.5,"m":9.2,"hi":15.8},{"s":"p","t":2060,"lo":1.0,"m":8.5,"hi":15.2},{"s":"p","t":2065,"lo":0.4,"m":7.8,"hi":14.5},{"s":"p","t":2070,"lo":0.0,"m":7.2,"hi":13.8},{"s":"p","t":2080,"lo":0.0,"m":6.0,"hi":12.2},{"s":"p","t":2090,"lo":0.0,"m":5.0,"hi":10.6},{"s":"p","t":2100,"lo":0.0,"m":4.2,"hi":9.0}
 ]},
 "layer":[
  {"transform":[{"aggregate":[{"op":"count","as":"n"}]}],"mark":{"type":"rule","color":"#d0d0d0"},"encoding":{"x":{"datum":1950,"type":"quantitative","title":null,"scale":{"domain":[1950,2100],"nice":false,"zero":false},"axis":{"values":[1950,1960,1970,1980,1990,2000,2010,2020,2030,2040,2050,2060,2070,2080,2090,2100],"tickCount":40,"format":"d","labelExpr":"datum.value % 50 == 0 ? datum.label : ''","labelPadding":6,"labelOverlap":false}},"x2":{"datum":2100},"y":{"datum":25,"type":"quantitative","title":"million km²","scale":{"domain":[0,25],"zero":false,"nice":false},"axis":{"values":[0,5,10,15,20,25],"tickCount":40,"format":"d","labelOverlap":false,"titlePadding":7}}}},
  {"transform":[{"filter":"datum.s=='h'"}],"mark":{"type":"area","color":"#e0cfa9"},"encoding":{"x":{"field":"t","type":"quantitative","title":null,"scale":{"domain":[1950,2100],"nice":false,"zero":false},"axis":{"values":[1950,1960,1970,1980,1990,2000,2010,2020,2030,2040,2050,2060,2070,2080,2090,2100],"tickCount":40,"format":"d","labelExpr":"datum.value % 50 == 0 ? datum.label : ''","labelPadding":6,"labelOverlap":false}},"y":{"field":"lo","type":"quantitative","title":"million km²","scale":{"domain":[0,25],"zero":false,"nice":false},"axis":{"values":[0,5,10,15,20,25],"tickCount":40,"format":"d","labelOverlap":false,"titlePadding":7}},"y2":{"field":"hi"}}},
  {"transform":[{"filter":"datum.s=='p'"}],"mark":{"type":"area","color":"#f4c7b7"},"encoding":{"x":{"field":"t","type":"quantitative","title":null},"y":{"field":"lo","type":"quantitative"},"y2":{"field":"hi"}}},
  {"transform":[{"filter":"datum.s=='b'"}],"mark":{"type":"area","color":"#5892bf","blend":"multiply"},"encoding":{"x":{"field":"t","type":"quantitative","title":null},"y":{"field":"lo","type":"quantitative"},"y2":{"field":"hi"}}},
  {"transform":[{"filter":"datum.s=='h'"}],"mark":{"type":"line","color":"#c7a873","strokeWidth":3.5},"encoding":{"x":{"field":"t","type":"quantitative","title":null},"y":{"field":"m","type":"quantitative"}}},
  {"transform":[{"filter":"datum.s=='p'"}],"mark":{"type":"line","color":"#9c3322","strokeWidth":4},"encoding":{"x":{"field":"t","type":"quantitative","title":null},"y":{"field":"m","type":"quantitative"}}},
  {"transform":[{"filter":"datum.s=='b'"}],"mark":{"type":"line","color":"#1e3b5f","strokeWidth":4},"encoding":{"x":{"field":"t","type":"quantitative","title":null},"y":{"field":"m","type":"quantitative"}}},
  {"transform":[{"aggregate":[{"op":"count","as":"n"}]}],"mark":{"type":"rule","color":"white","strokeWidth":3},"encoding":{"x":{"datum":1993},"x2":{"datum":2010},"y":{"datum":15}}},
  {"transform":[{"aggregate":[{"op":"count","as":"n"}]}],"mark":{"type":"rule","color":"#111","strokeWidth":1.5},"encoding":{"x":{"datum":1994},"y":{"datum":8.7},"y2":{"datum":25}}},
  {"transform":[{"aggregate":[{"op":"count","as":"n"}]}],"mark":{"type":"rule","color":"#111","strokeWidth":1.5},"encoding":{"x":{"datum":2010},"y":{"datum":5.5},"y2":{"datum":24.6}}},
  {"transform":[{"aggregate":[{"op":"count","as":"n"}]}],"mark":{"type":"rule","color":"#222","strokeWidth":1},"encoding":{"x":{"datum":2010},"x2":{"datum":2020},"y":{"datum":15},"y2":{"datum":20.6}}},
  {"transform":[{"aggregate":[{"op":"count","as":"n"}]}],"mark":{"type":"rule","color":"#222","strokeWidth":1},"encoding":{"x":{"datum":2020},"x2":{"datum":2027.5},"y":{"datum":20.6}}},
  {"transform":[{"aggregate":[{"op":"count","as":"n"}]}],"mark":{"type":"text","align":"left","baseline":"middle","fontSize":14.5,"fontWeight":"bold","color":"#111"},"encoding":{"x":{"datum":2028.5},"y":{"datum":21.0},"text":{"value":"current estimate: 15.0"}}},
  {"transform":[{"aggregate":[{"op":"count","as":"n"}]}],"mark":{"type":"text","align":"left","baseline":"middle","fontSize":30,"color":"#c9b49c","opacity":0.6},"encoding":{"x":{"datum":2032.7},"y":{"datum":6.7},"text":{"value":"Slide 9"}}},
  {"transform":[{"aggregate":[{"op":"count","as":"n"}]}],"mark":{"type":"rule","color":"#222"},"encoding":{"x":{"datum":2100}}},
  {"transform":[{"aggregate":[{"op":"count","as":"n"}]}],"mark":{"type":"text","align":"left","baseline":"middle","fontSize":16.5,"fontWeight":"bold","color":"#111"},"encoding":{"x":{"datum":1955.1},"y":{"datum":6.03},"text":{"value":"(n) Near-surface"}}},
  {"transform":[{"aggregate":[{"op":"count","as":"n"}]}],"mark":{"type":"text","align":"left","baseline":"middle","fontSize":16.5,"fontWeight":"bold","color":"#111"},"encoding":{"x":{"datum":1955.1},"y":{"datum":2.07},"text":{"value":"permafrost extent"}}}
 ]}
],"spacing":25,"bounds":"flush"}
],"spacing":20}
]
}
